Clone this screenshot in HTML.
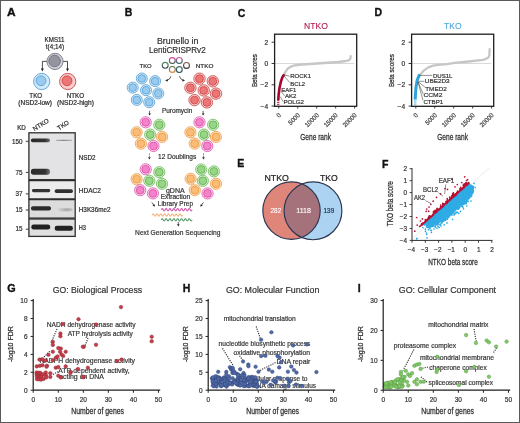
<!DOCTYPE html>
<html><head><meta charset="utf-8"><title>Figure</title>
<style>
html,body{margin:0;padding:0;background:#fff;}
body{width:520px;height:423px;overflow:hidden;font-family:"Liberation Sans", sans-serif;}
.fig{position:relative;width:518px;height:421px;border:1px solid #595959;background:#fff;}
.fig svg{position:absolute;left:-1px;top:-1px;filter:blur(0.3px);}
</style></head><body><div class="fig">
<svg width="520" height="423" viewBox="0 0 520 423" font-family='"Liberation Sans", sans-serif'>
<text x="6.9" y="16.4" font-size="10.5" fill="#111" font-weight="bold" textLength="8.6" lengthAdjust="spacingAndGlyphs" stroke="#111" stroke-width="0.35">A</text>
<text x="124.8" y="16.4" font-size="10.5" fill="#111" font-weight="bold" stroke="#111" stroke-width="0.35">B</text>
<text x="237.8" y="16.5" font-size="10.5" fill="#111" font-weight="bold" stroke="#111" stroke-width="0.35">C</text>
<text x="374.5" y="16.3" font-size="10.5" fill="#111" font-weight="bold" stroke="#111" stroke-width="0.35">D</text>
<text x="237.3" y="167.4" font-size="10.5" fill="#111" font-weight="bold" stroke="#111" stroke-width="0.35">E</text>
<text x="382.1" y="167.5" font-size="10.5" fill="#111" font-weight="bold" stroke="#111" stroke-width="0.35">F</text>
<text x="7.2" y="291.6" font-size="10.5" fill="#111" font-weight="bold" textLength="8.4" lengthAdjust="spacingAndGlyphs" stroke="#111" stroke-width="0.35">G</text>
<text x="182.7" y="291.6" font-size="10.5" fill="#111" font-weight="bold" stroke="#111" stroke-width="0.35">H</text>
<text x="357.8" y="291.6" font-size="10.5" fill="#111" font-weight="bold" stroke="#111" stroke-width="0.35">I</text>
<text x="54.55" y="42.1" font-size="6.3" fill="#2b2b2b" text-anchor="middle" textLength="19.9" lengthAdjust="spacingAndGlyphs" stroke="#2b2b2b" stroke-width="0.2">KMS11</text>
<text x="54.9" y="49.4" font-size="6.3" fill="#2b2b2b" text-anchor="middle" textLength="18.2" lengthAdjust="spacingAndGlyphs" stroke="#2b2b2b" stroke-width="0.2">t(4;14)</text>
<circle cx="55" cy="61.4" r="8.1" fill="#d0d0d8" stroke="#80808c" stroke-width="1.0"/>
<circle cx="54.6" cy="61" r="5.74" fill="#94959f" stroke="#6f707c" stroke-width="0.95"/>
<path d="M46.8,61.4 H42.4 V69" fill="none" stroke="#222" stroke-width="0.8"/>
<path d="M40.9,68.6 L43.9,68.6 L42.4,71.6 Z" fill="#222"/>
<path d="M63.2,61.4 H67.5 V69" fill="none" stroke="#222" stroke-width="0.8"/>
<path d="M66,68.6 L69,68.6 L67.5,71.6 Z" fill="#222"/>
<circle cx="41.7" cy="81.5" r="8.1" fill="#d2ebfa" stroke="#64a6d6" stroke-width="1.0"/>
<circle cx="41" cy="80.8" r="4.92" fill="#98cbef" stroke="#5aa2d8" stroke-width="0.95"/>
<circle cx="67.7" cy="81.5" r="8.1" fill="#fbcccc" stroke="#cf5656" stroke-width="1.0"/>
<circle cx="67" cy="80.8" r="4.92" fill="#ec7575" stroke="#cc4a4a" stroke-width="0.95"/>
<text x="35.75" y="97.6" font-size="6.3" fill="#2b2b2b" text-anchor="middle" textLength="12.9" lengthAdjust="spacingAndGlyphs" stroke="#2b2b2b" stroke-width="0.2">TKO</text>
<text x="35.15" y="104.8" font-size="6.3" fill="#2b2b2b" text-anchor="middle" textLength="33.7" lengthAdjust="spacingAndGlyphs" stroke="#2b2b2b" stroke-width="0.2">(NSD2-low)</text>
<text x="75.45" y="97.6" font-size="6.3" fill="#2b2b2b" text-anchor="middle" textLength="17.5" lengthAdjust="spacingAndGlyphs" stroke="#2b2b2b" stroke-width="0.2">NTKO</text>
<text x="75.5" y="104.8" font-size="6.3" fill="#2b2b2b" text-anchor="middle" textLength="36.8" lengthAdjust="spacingAndGlyphs" stroke="#2b2b2b" stroke-width="0.2">(NSD2-high)</text>
<text x="17.2" y="130.2" font-size="6.3" fill="#2b2b2b" textLength="8.6" lengthAdjust="spacingAndGlyphs" stroke="#2b2b2b" stroke-width="0.2">KD</text>
<text x="34.6" y="131.3" font-size="6.3" fill="#2b2b2b" textLength="17.6" lengthAdjust="spacingAndGlyphs" transform="rotate(-33 34.6 131.3)" stroke="#2b2b2b" stroke-width="0.2">NTKO</text>
<text x="59" y="130.4" font-size="6.3" fill="#2b2b2b" textLength="12.6" lengthAdjust="spacingAndGlyphs" transform="rotate(-33 59 130.4)" stroke="#2b2b2b" stroke-width="0.2">TKO</text>
<defs><linearGradient id="bg1" x1="0" x2="1"><stop offset="0" stop-color="#2a2a2a"/><stop offset="0.75" stop-color="#333"/><stop offset="1" stop-color="#777"/></linearGradient><linearGradient id="bg2" x1="0" x2="1"><stop offset="0" stop-color="#b0b0b0"/><stop offset="0.5" stop-color="#8a8a8a"/><stop offset="1" stop-color="#b5b5b5"/></linearGradient><linearGradient id="bg3" x1="0" x2="1"><stop offset="0" stop-color="#d4d4d4"/><stop offset="0.6" stop-color="#a8a8a8"/><stop offset="1" stop-color="#c4c4c4"/></linearGradient></defs>
<rect x="28.9" y="132.8" width="46.3" height="46.9" fill="#e3e3e5" stroke="#2e2e2e" stroke-width="1.3"/>
<rect x="28.9" y="180.6" width="46.3" height="18.3" fill="#ececec" stroke="#2e2e2e" stroke-width="1.3"/>
<rect x="28.9" y="199.6" width="46.3" height="18.5" fill="#dcdcdd" stroke="#2e2e2e" stroke-width="1.3"/>
<rect x="28.9" y="219" width="46.3" height="17.4" fill="#e0e0e1" stroke="#2e2e2e" stroke-width="1.3"/>
<rect x="30.9" y="138.45" width="19.1" height="3.9" rx="1.77" fill="url(#bg1)" opacity="1"/>
<rect x="56.1" y="139.7" width="16" height="1.4" rx="0.64" fill="url(#bg2)" opacity="1"/>
<rect x="30.9" y="168.8" width="19.1" height="6" rx="2.73" fill="url(#bg1)" opacity="1"/>
<rect x="32" y="189" width="18.2" height="3.2" rx="1.45" fill="#333" opacity="1"/>
<rect x="54.7" y="189.3" width="18.2" height="3.6" rx="1.64" fill="#2f2f2f" opacity="1"/>
<rect x="31" y="206.15" width="20" height="4.3" rx="1.95" fill="#2c2c2c" opacity="1"/>
<rect x="58" y="208.2" width="14.5" height="3" rx="1.36" fill="url(#bg3)" opacity="1"/>
<rect x="31.3" y="224.5" width="18.9" height="5" rx="2.27" fill="#222" opacity="1"/>
<rect x="54.7" y="225.8" width="18.2" height="5" rx="2.27" fill="#222" opacity="1"/>
<text x="22.6" y="143.5" font-size="6.3" fill="#2b2b2b" text-anchor="end" stroke="#2b2b2b" stroke-width="0.2">150</text>
<line x1="25.8" y1="141.3" x2="28.5" y2="141.3" stroke="#222" stroke-width="0.9"/>
<text x="22.6" y="174.6" font-size="6.3" fill="#2b2b2b" text-anchor="end" stroke="#2b2b2b" stroke-width="0.2">75</text>
<line x1="25.8" y1="172.4" x2="28.5" y2="172.4" stroke="#222" stroke-width="0.9"/>
<text x="22.6" y="195.6" font-size="6.3" fill="#2b2b2b" text-anchor="end" stroke="#2b2b2b" stroke-width="0.2">37</text>
<line x1="25.8" y1="193.9" x2="28.5" y2="193.9" stroke="#222" stroke-width="0.9"/>
<text x="22.6" y="212" font-size="6.3" fill="#2b2b2b" text-anchor="end" stroke="#2b2b2b" stroke-width="0.2">15</text>
<line x1="25.8" y1="210" x2="28.5" y2="210" stroke="#222" stroke-width="0.9"/>
<text x="22.6" y="231.3" font-size="6.3" fill="#2b2b2b" text-anchor="end" stroke="#2b2b2b" stroke-width="0.2">15</text>
<line x1="25.8" y1="229.2" x2="28.5" y2="229.2" stroke="#222" stroke-width="0.9"/>
<text x="78.8" y="159.8" font-size="6.3" fill="#2b2b2b" textLength="16.8" lengthAdjust="spacingAndGlyphs" stroke="#2b2b2b" stroke-width="0.2">NSD2</text>
<text x="78.8" y="193.3" font-size="6.3" fill="#2b2b2b" textLength="22.2" lengthAdjust="spacingAndGlyphs" stroke="#2b2b2b" stroke-width="0.2">HDAC2</text>
<text x="78.8" y="212.2" font-size="6.3" fill="#2b2b2b" textLength="31.7" lengthAdjust="spacingAndGlyphs" stroke="#2b2b2b" stroke-width="0.2">H3K36me2</text>
<text x="78.8" y="230.2" font-size="6.3" fill="#2b2b2b" textLength="7.2" lengthAdjust="spacingAndGlyphs" stroke="#2b2b2b" stroke-width="0.2">H3</text>
<text x="177.7" y="43.5" font-size="8.4" fill="#333" text-anchor="middle" textLength="41.4" lengthAdjust="spacingAndGlyphs" stroke="#333" stroke-width="0.2">Brunello in</text>
<text x="177.3" y="53.3" font-size="8.4" fill="#333" text-anchor="middle" textLength="56.8" lengthAdjust="spacingAndGlyphs" stroke="#333" stroke-width="0.2">LentiCRISPRv2</text>
<text x="139.6" y="67.8" font-size="5.9" fill="#2b2b2b" textLength="12.1" lengthAdjust="spacingAndGlyphs" stroke="#2b2b2b" stroke-width="0.2">TKO</text>
<text x="195.8" y="67.8" font-size="5.9" fill="#2b2b2b" textLength="17.6" lengthAdjust="spacingAndGlyphs" stroke="#2b2b2b" stroke-width="0.2">NTKO</text>
<defs><linearGradient id="rg0" x1="0" y1="0" x2="0" y2="1"><stop offset="0" stop-color="#d2449c"/><stop offset="1" stop-color="#3f5f4c"/></linearGradient><linearGradient id="rg1" x1="0" y1="0" x2="0" y2="1"><stop offset="0" stop-color="#c8509a"/><stop offset="1" stop-color="#2f6a66"/></linearGradient><linearGradient id="rg2" x1="0" y1="0" x2="0" y2="1"><stop offset="0" stop-color="#4f8a64"/><stop offset="1" stop-color="#35474c"/></linearGradient><linearGradient id="rg3" x1="0" y1="0" x2="0" y2="1"><stop offset="0" stop-color="#7a5a48"/><stop offset="1" stop-color="#3a3a3a"/></linearGradient><linearGradient id="rg4" x1="0" y1="0" x2="0" y2="1"><stop offset="0" stop-color="#5c6a4c"/><stop offset="1" stop-color="#d98a40"/></linearGradient><linearGradient id="rg5" x1="0" y1="0" x2="0" y2="1"><stop offset="0" stop-color="#3f6f60"/><stop offset="1" stop-color="#2b4f5c"/></linearGradient></defs>
<circle cx="172.3" cy="60.6" r="2.95" fill="none" stroke="url(#rg0)" stroke-width="1.1"/>
<circle cx="179.3" cy="60.5" r="2.95" fill="none" stroke="url(#rg1)" stroke-width="1.1"/>
<circle cx="165.2" cy="65.3" r="2.95" fill="none" stroke="url(#rg2)" stroke-width="1.1"/>
<circle cx="186.5" cy="65.4" r="2.95" fill="none" stroke="url(#rg3)" stroke-width="1.1"/>
<circle cx="172.3" cy="69.4" r="2.95" fill="none" stroke="url(#rg4)" stroke-width="1.1"/>
<circle cx="179.3" cy="69.6" r="2.95" fill="none" stroke="url(#rg5)" stroke-width="1.1"/>
<path d="M170.8,76.4 Q170.2,79.4 167,80.3" fill="none" stroke="#222" stroke-width="0.75"/>
<path d="M165.2,80.8 L167.4,78.9 L168,81.5 Z" fill="#222"/>
<path d="M179.4,76.2 Q180.2,79.3 183.2,80.3" fill="none" stroke="#222" stroke-width="0.75"/>
<path d="M185,80.8 L182.8,78.9 L182.2,81.5 Z" fill="#222"/>
<circle cx="141.8" cy="78.5" r="5.5" fill="#d2ebfa" stroke="#64a6d6" stroke-width="0.9"/>
<circle cx="141.8" cy="78.5" r="3.81" fill="#98cbef" stroke="#5aa2d8" stroke-width="0.855"/>
<circle cx="155.1" cy="81.1" r="5.5" fill="#d2ebfa" stroke="#64a6d6" stroke-width="0.9"/>
<circle cx="155.1" cy="81.1" r="3.81" fill="#98cbef" stroke="#5aa2d8" stroke-width="0.855"/>
<circle cx="132.7" cy="87.6" r="5.5" fill="#d2ebfa" stroke="#64a6d6" stroke-width="0.9"/>
<circle cx="132.7" cy="87.6" r="3.81" fill="#98cbef" stroke="#5aa2d8" stroke-width="0.855"/>
<circle cx="146" cy="90.2" r="5.5" fill="#d2ebfa" stroke="#64a6d6" stroke-width="0.9"/>
<circle cx="146" cy="90.2" r="3.81" fill="#98cbef" stroke="#5aa2d8" stroke-width="0.855"/>
<circle cx="158.3" cy="93.4" r="5.5" fill="#d2ebfa" stroke="#64a6d6" stroke-width="0.9"/>
<circle cx="158.3" cy="93.4" r="3.81" fill="#98cbef" stroke="#5aa2d8" stroke-width="0.855"/>
<circle cx="136.8" cy="99.9" r="5.5" fill="#d2ebfa" stroke="#64a6d6" stroke-width="0.9"/>
<circle cx="136.8" cy="99.9" r="3.81" fill="#98cbef" stroke="#5aa2d8" stroke-width="0.855"/>
<circle cx="149.2" cy="102.2" r="5.5" fill="#d2ebfa" stroke="#64a6d6" stroke-width="0.9"/>
<circle cx="149.2" cy="102.2" r="3.81" fill="#98cbef" stroke="#5aa2d8" stroke-width="0.855"/>
<circle cx="199.5" cy="78.7" r="5.7" fill="#fbcccc" stroke="#cf5656" stroke-width="0.9"/>
<circle cx="199.5" cy="78.7" r="3.94" fill="#ec7575" stroke="#cc4a4a" stroke-width="0.855"/>
<circle cx="212.8" cy="81.3" r="5.7" fill="#fbcccc" stroke="#cf5656" stroke-width="0.9"/>
<circle cx="212.8" cy="81.3" r="3.94" fill="#ec7575" stroke="#cc4a4a" stroke-width="0.855"/>
<circle cx="190.4" cy="87.8" r="5.7" fill="#fbcccc" stroke="#cf5656" stroke-width="0.9"/>
<circle cx="190.4" cy="87.8" r="3.94" fill="#ec7575" stroke="#cc4a4a" stroke-width="0.855"/>
<circle cx="203.7" cy="90.4" r="5.7" fill="#fbcccc" stroke="#cf5656" stroke-width="0.9"/>
<circle cx="203.7" cy="90.4" r="3.94" fill="#ec7575" stroke="#cc4a4a" stroke-width="0.855"/>
<circle cx="216" cy="93.6" r="5.7" fill="#fbcccc" stroke="#cf5656" stroke-width="0.9"/>
<circle cx="216" cy="93.6" r="3.94" fill="#ec7575" stroke="#cc4a4a" stroke-width="0.855"/>
<circle cx="194.5" cy="100.1" r="5.7" fill="#fbcccc" stroke="#cf5656" stroke-width="0.9"/>
<circle cx="194.5" cy="100.1" r="3.94" fill="#ec7575" stroke="#cc4a4a" stroke-width="0.855"/>
<circle cx="206.9" cy="102.4" r="5.7" fill="#fbcccc" stroke="#cf5656" stroke-width="0.9"/>
<circle cx="206.9" cy="102.4" r="3.94" fill="#ec7575" stroke="#cc4a4a" stroke-width="0.855"/>
<circle cx="145.7" cy="122.3" r="5.6" fill="#fcd4ec" stroke="#e064b4" stroke-width="0.9"/>
<circle cx="145.7" cy="122.3" r="3.88" fill="#f283cc" stroke="#d9509f" stroke-width="0.855"/>
<circle cx="159.3" cy="124.8" r="5.6" fill="#dcf2d2" stroke="#76c065" stroke-width="0.9"/>
<circle cx="159.3" cy="124.8" r="3.88" fill="#98d586" stroke="#5fae4d" stroke-width="0.855"/>
<circle cx="136.6" cy="132.3" r="5.6" fill="#fee2c0" stroke="#f0a458" stroke-width="0.9"/>
<circle cx="136.6" cy="132.3" r="3.88" fill="#fbbc76" stroke="#eb9640" stroke-width="0.855"/>
<circle cx="150.2" cy="134.6" r="5.6" fill="#dcf2d2" stroke="#76c065" stroke-width="0.9"/>
<circle cx="150.2" cy="134.6" r="3.88" fill="#98d586" stroke="#5fae4d" stroke-width="0.855"/>
<circle cx="162.1" cy="136.9" r="5.6" fill="#fee2c0" stroke="#f0a458" stroke-width="0.9"/>
<circle cx="162.1" cy="136.9" r="3.88" fill="#fbbc76" stroke="#eb9640" stroke-width="0.855"/>
<circle cx="140.9" cy="143.6" r="5.6" fill="#fee2c0" stroke="#f0a458" stroke-width="0.9"/>
<circle cx="140.9" cy="143.6" r="3.88" fill="#fbbc76" stroke="#eb9640" stroke-width="0.855"/>
<circle cx="153.5" cy="146" r="5.6" fill="#fcd4ec" stroke="#e064b4" stroke-width="0.9"/>
<circle cx="153.5" cy="146" r="3.88" fill="#f283cc" stroke="#d9509f" stroke-width="0.855"/>
<circle cx="199.5" cy="122.3" r="5.6" fill="#fcd4ec" stroke="#e064b4" stroke-width="0.9"/>
<circle cx="199.5" cy="122.3" r="3.88" fill="#f283cc" stroke="#d9509f" stroke-width="0.855"/>
<circle cx="213.1" cy="124.8" r="5.6" fill="#dcf2d2" stroke="#76c065" stroke-width="0.9"/>
<circle cx="213.1" cy="124.8" r="3.88" fill="#98d586" stroke="#5fae4d" stroke-width="0.855"/>
<circle cx="190.4" cy="132.3" r="5.6" fill="#fee2c0" stroke="#f0a458" stroke-width="0.9"/>
<circle cx="190.4" cy="132.3" r="3.88" fill="#fbbc76" stroke="#eb9640" stroke-width="0.855"/>
<circle cx="204" cy="134.6" r="5.6" fill="#dcf2d2" stroke="#76c065" stroke-width="0.9"/>
<circle cx="204" cy="134.6" r="3.88" fill="#98d586" stroke="#5fae4d" stroke-width="0.855"/>
<circle cx="215.9" cy="136.9" r="5.6" fill="#fee2c0" stroke="#f0a458" stroke-width="0.9"/>
<circle cx="215.9" cy="136.9" r="3.88" fill="#fbbc76" stroke="#eb9640" stroke-width="0.855"/>
<circle cx="194.7" cy="143.6" r="5.6" fill="#fee2c0" stroke="#f0a458" stroke-width="0.9"/>
<circle cx="194.7" cy="143.6" r="3.88" fill="#fbbc76" stroke="#eb9640" stroke-width="0.855"/>
<circle cx="207.3" cy="146" r="5.6" fill="#fcd4ec" stroke="#e064b4" stroke-width="0.9"/>
<circle cx="207.3" cy="146" r="3.88" fill="#f283cc" stroke="#d9509f" stroke-width="0.855"/>
<circle cx="145.7" cy="169.3" r="5.6" fill="#fcd4ec" stroke="#e064b4" stroke-width="0.9"/>
<circle cx="145.7" cy="169.3" r="3.88" fill="#f283cc" stroke="#d9509f" stroke-width="0.855"/>
<circle cx="159.3" cy="172.2" r="5.6" fill="#dcf2d2" stroke="#76c065" stroke-width="0.9"/>
<circle cx="159.3" cy="172.2" r="3.88" fill="#98d586" stroke="#5fae4d" stroke-width="0.855"/>
<circle cx="136.6" cy="179.2" r="5.6" fill="#fee2c0" stroke="#f0a458" stroke-width="0.9"/>
<circle cx="136.6" cy="179.2" r="3.88" fill="#fbbc76" stroke="#eb9640" stroke-width="0.855"/>
<circle cx="149.3" cy="180.8" r="5.6" fill="#dcf2d2" stroke="#76c065" stroke-width="0.9"/>
<circle cx="149.3" cy="180.8" r="3.88" fill="#98d586" stroke="#5fae4d" stroke-width="0.855"/>
<circle cx="162" cy="183.8" r="5.6" fill="#dcf2d2" stroke="#76c065" stroke-width="0.9"/>
<circle cx="162" cy="183.8" r="3.88" fill="#98d586" stroke="#5fae4d" stroke-width="0.855"/>
<circle cx="140.2" cy="190.2" r="5.6" fill="#fcd4ec" stroke="#e064b4" stroke-width="0.9"/>
<circle cx="140.2" cy="190.2" r="3.88" fill="#f283cc" stroke="#d9509f" stroke-width="0.855"/>
<circle cx="152.9" cy="193.4" r="5.6" fill="#fcd4ec" stroke="#e064b4" stroke-width="0.9"/>
<circle cx="152.9" cy="193.4" r="3.88" fill="#f283cc" stroke="#d9509f" stroke-width="0.855"/>
<circle cx="201.2" cy="169.5" r="5.6" fill="#dcf2d2" stroke="#76c065" stroke-width="0.9"/>
<circle cx="201.2" cy="169.5" r="3.88" fill="#98d586" stroke="#5fae4d" stroke-width="0.855"/>
<circle cx="213.9" cy="171.4" r="5.6" fill="#dcf2d2" stroke="#76c065" stroke-width="0.9"/>
<circle cx="213.9" cy="171.4" r="3.88" fill="#98d586" stroke="#5fae4d" stroke-width="0.855"/>
<circle cx="190.6" cy="178.8" r="5.6" fill="#fee2c0" stroke="#f0a458" stroke-width="0.9"/>
<circle cx="190.6" cy="178.8" r="3.88" fill="#fbbc76" stroke="#eb9640" stroke-width="0.855"/>
<circle cx="202.8" cy="180.8" r="5.6" fill="#dcf2d2" stroke="#76c065" stroke-width="0.9"/>
<circle cx="202.8" cy="180.8" r="3.88" fill="#98d586" stroke="#5fae4d" stroke-width="0.855"/>
<circle cx="216" cy="183.8" r="5.6" fill="#fee2c0" stroke="#f0a458" stroke-width="0.9"/>
<circle cx="216" cy="183.8" r="3.88" fill="#fbbc76" stroke="#eb9640" stroke-width="0.855"/>
<circle cx="194.8" cy="190.2" r="5.6" fill="#fee2c0" stroke="#f0a458" stroke-width="0.9"/>
<circle cx="194.8" cy="190.2" r="3.88" fill="#fbbc76" stroke="#eb9640" stroke-width="0.855"/>
<circle cx="207.5" cy="193.4" r="5.6" fill="#fcd4ec" stroke="#e064b4" stroke-width="0.9"/>
<circle cx="207.5" cy="193.4" r="3.88" fill="#f283cc" stroke="#d9509f" stroke-width="0.855"/>
<text x="177.1" y="113.4" font-size="6.4" fill="#333" text-anchor="middle" textLength="30.4" lengthAdjust="spacingAndGlyphs" stroke="#333" stroke-width="0.2">Puromycin</text>
<line x1="149.6" y1="110.8" x2="149.6" y2="114" stroke="#222" stroke-width="0.7"/>
<path d="M148.3,113.4 L150.9,113.4 L149.6,115.5 Z" fill="#222"/>
<line x1="203.1" y1="110.8" x2="203.1" y2="114" stroke="#222" stroke-width="0.7"/>
<path d="M201.8,113.4 L204.4,113.4 L203.1,115.5 Z" fill="#222"/>
<text x="177.2" y="158.6" font-size="6.9" fill="#333" text-anchor="middle" textLength="38.2" lengthAdjust="spacingAndGlyphs" stroke="#333" stroke-width="0.2">12 Doublings</text>
<line x1="149.4" y1="153.6" x2="149.4" y2="157.9" stroke="#222" stroke-width="0.9" stroke-dasharray="0.9,1.2"/>
<path d="M148.1,157.3 L150.7,157.3 L149.4,159.4 Z" fill="#222"/>
<line x1="203.5" y1="153.6" x2="203.5" y2="157.9" stroke="#222" stroke-width="0.9" stroke-dasharray="0.9,1.2"/>
<path d="M202.2,157.3 L204.8,157.3 L203.5,159.4 Z" fill="#222"/>
<text x="175.3" y="193.2" font-size="6.5" fill="#333" text-anchor="middle" textLength="18.8" lengthAdjust="spacingAndGlyphs" stroke="#333" stroke-width="0.2">gDNA</text>
<text x="175.4" y="199" font-size="6.5" fill="#333" text-anchor="middle" textLength="29.4" lengthAdjust="spacingAndGlyphs" stroke="#333" stroke-width="0.2">Extraction</text>
<text x="175.4" y="205.9" font-size="6.5" fill="#333" text-anchor="middle" textLength="35.2" lengthAdjust="spacingAndGlyphs" stroke="#333" stroke-width="0.2">Library Prep</text>
<path d="M151.9,202.4 L153.9,205.3" fill="none" stroke="#222" stroke-width="0.75"/>
<path d="M154.9,206.7 L152.5,205.6 L154.7,204.2 Z" fill="#222"/>
<path d="M203.4,202.4 L201.4,205.3" fill="none" stroke="#222" stroke-width="0.75"/>
<path d="M200.4,206.7 L202.8,205.6 L200.6,204.2 Z" fill="#222"/>
<path d="M161.3,209.8 Q162.26,207.5 163.23,209.8 T165.15,209.8 Q166.11,207.5 167.08,209.8 T169,209.8 Q169.96,207.5 170.93,209.8 T172.85,209.8 Q173.81,207.5 174.78,209.8 T176.7,209.8 Q177.66,207.5 178.63,209.8 T180.55,209.8 Q181.51,207.5 182.48,209.8 T184.4,209.8 Q185.36,207.5 186.33,209.8 T188.25,209.8 Q189.21,207.5 190.18,209.8 T192.1,209.8" fill="none" stroke="#d45aae" stroke-width="1.1"/>
<path d="M152.1,215.1 Q153.06,212.8 154.03,215.1 T155.95,215.1 Q156.91,212.8 157.88,215.1 T159.8,215.1 Q160.76,212.8 161.72,215.1 T163.65,215.1 Q164.61,212.8 165.58,215.1 T167.5,215.1 Q168.46,212.8 169.43,215.1 T171.35,215.1 Q172.31,212.8 173.28,215.1 T175.2,215.1 Q176.16,212.8 177.12,215.1 T179.05,215.1 Q180.01,212.8 180.97,215.1 T182.9,215.1" fill="none" stroke="#f2ad6c" stroke-width="1.1"/>
<path d="M161.3,219.9 Q162.26,217.6 163.23,219.9 T165.15,219.9 Q166.11,217.6 167.08,219.9 T169,219.9 Q169.96,217.6 170.93,219.9 T172.85,219.9 Q173.81,217.6 174.78,219.9 T176.7,219.9 Q177.66,217.6 178.63,219.9 T180.55,219.9 Q181.51,217.6 182.48,219.9 T184.4,219.9 Q185.36,217.6 186.33,219.9 T188.25,219.9 Q189.21,217.6 190.18,219.9 T192.1,219.9" fill="none" stroke="#4a9660" stroke-width="1.1"/>
<line x1="178.3" y1="221.8" x2="178.3" y2="224.9" stroke="#222" stroke-width="0.7"/>
<path d="M177,224.3 L179.6,224.3 L178.3,226.4 Z" fill="#222"/>
<text x="177.8" y="234.9" font-size="6.9" fill="#333" text-anchor="middle" textLength="85.4" lengthAdjust="spacingAndGlyphs" stroke="#333" stroke-width="0.2">Next Generation Sequencing</text>
<text x="316" y="29.4" font-size="8.8" fill="#b01c4c" text-anchor="middle" textLength="23.8" lengthAdjust="spacingAndGlyphs" stroke="#b01c4c" stroke-width="0.1">NTKO</text>
<line x1="274.6" y1="63.5" x2="354.2" y2="63.5" stroke="#d9d9d9" stroke-width="1.0"/>
<path d="M284,74.6 L285.6,71.6 L287.7,68.8 L290.5,66.8 L293.4,65.7 L297.5,65 L301.9,64.5 L310,64 L324.2,63 L338.4,62 L346,61 L348.6,60.3 L350.3,58.8 L350.7,56.2" fill="none" stroke="#c6c6c6" stroke-width="2.3" stroke-linejoin="round" stroke-linecap="round"/>
<path d="M278.3,100 L278.6,95 L279.5,88 L280.9,81.5 L282.5,77 L284.2,74.4" fill="none" stroke="#a8062e" stroke-width="2.6" stroke-linejoin="round"/>
<path d="M278.3,100 L278.2,105.3" fill="none" stroke="#c8324f" stroke-width="2.21" stroke-dasharray="1.3,0.7"/>
<rect x="274.6" y="34.2" width="82.1" height="72.1" fill="none" stroke="#1e1e1e" stroke-width="1.3"/>
<line x1="271.6" y1="42.2" x2="274.6" y2="42.2" stroke="#222" stroke-width="0.9"/>
<text x="268.1" y="44.6" font-size="6.6" fill="#333" text-anchor="end" stroke="#333" stroke-width="0.2">2</text>
<line x1="271.6" y1="63.5" x2="274.6" y2="63.5" stroke="#222" stroke-width="0.9"/>
<text x="268.1" y="65.9" font-size="6.6" fill="#333" text-anchor="end" stroke="#333" stroke-width="0.2">0</text>
<line x1="271.6" y1="84.8" x2="274.6" y2="84.8" stroke="#222" stroke-width="0.9"/>
<text x="268.1" y="87.2" font-size="6.6" fill="#333" text-anchor="end" stroke="#333" stroke-width="0.2">−2</text>
<line x1="271.6" y1="106.1" x2="274.6" y2="106.1" stroke="#222" stroke-width="0.9"/>
<text x="268.1" y="108.5" font-size="6.6" fill="#333" text-anchor="end" stroke="#333" stroke-width="0.2">−4</text>
<line x1="278.8" y1="106.3" x2="278.8" y2="108.5" stroke="#222" stroke-width="0.9"/>
<text x="281.4" y="115.7" font-size="6.4" fill="#333" text-anchor="end" textLength="3.35" lengthAdjust="spacingAndGlyphs" transform="rotate(-45 281.4 115.7)" stroke="#333" stroke-width="0.2">0</text>
<line x1="297.75" y1="106.3" x2="297.75" y2="108.5" stroke="#222" stroke-width="0.9"/>
<text x="300.35" y="115.7" font-size="6.4" fill="#333" text-anchor="end" textLength="13.4" lengthAdjust="spacingAndGlyphs" transform="rotate(-45 300.35 115.7)" stroke="#333" stroke-width="0.2">5000</text>
<line x1="316.7" y1="106.3" x2="316.7" y2="108.5" stroke="#222" stroke-width="0.9"/>
<text x="319.3" y="115.7" font-size="6.4" fill="#333" text-anchor="end" textLength="16.75" lengthAdjust="spacingAndGlyphs" transform="rotate(-45 319.3 115.7)" stroke="#333" stroke-width="0.2">10000</text>
<line x1="335.65" y1="106.3" x2="335.65" y2="108.5" stroke="#222" stroke-width="0.9"/>
<text x="338.25" y="115.7" font-size="6.4" fill="#333" text-anchor="end" textLength="16.75" lengthAdjust="spacingAndGlyphs" transform="rotate(-45 338.25 115.7)" stroke="#333" stroke-width="0.2">15000</text>
<line x1="354.6" y1="106.3" x2="354.6" y2="108.5" stroke="#222" stroke-width="0.9"/>
<text x="357.2" y="115.7" font-size="6.4" fill="#333" text-anchor="end" textLength="16.75" lengthAdjust="spacingAndGlyphs" transform="rotate(-45 357.2 115.7)" stroke="#333" stroke-width="0.2">20000</text>
<text x="256.6" y="70.6" font-size="8.0" fill="#333" text-anchor="middle" textLength="33" lengthAdjust="spacingAndGlyphs" transform="rotate(-90 256.6 70.6)" stroke="#333" stroke-width="0.28">Beta scores</text>
<text x="315.6" y="140" font-size="8.6" fill="#333" text-anchor="middle" textLength="30.8" lengthAdjust="spacingAndGlyphs" stroke="#333" stroke-width="0.28">Gene rank</text>
<text x="290.2" y="78.4" font-size="6.0" fill="#333" textLength="20.8" lengthAdjust="spacingAndGlyphs" stroke="#333" stroke-width="0.2">ROCK1</text>
<line x1="284" y1="74.8" x2="289.6" y2="76.2" stroke="#3a3a3a" stroke-width="0.55"/>
<text x="290.2" y="86.1" font-size="6.0" fill="#333" textLength="14.8" lengthAdjust="spacingAndGlyphs" stroke="#333" stroke-width="0.2">BCL2</text>
<line x1="283.6" y1="75.4" x2="289.8" y2="82.6" stroke="#3a3a3a" stroke-width="0.55"/>
<text x="281.3" y="91.6" font-size="6.0" fill="#333" textLength="14.9" lengthAdjust="spacingAndGlyphs" stroke="#333" stroke-width="0.2">EAF1</text>
<text x="284.9" y="97.8" font-size="6.0" fill="#333" textLength="11.6" lengthAdjust="spacingAndGlyphs" stroke="#333" stroke-width="0.2">AK2</text>
<line x1="281.2" y1="91.5" x2="284.6" y2="95.8" stroke="#3a3a3a" stroke-width="0.55"/>
<text x="283.4" y="103.6" font-size="6.0" fill="#333" textLength="20.6" lengthAdjust="spacingAndGlyphs" stroke="#333" stroke-width="0.2">POLG2</text>
<line x1="280.2" y1="96.5" x2="283.2" y2="101.6" stroke="#3a3a3a" stroke-width="0.55"/>
<text x="452.85" y="29.4" font-size="8.8" fill="#4aa6d6" text-anchor="middle" textLength="17.5" lengthAdjust="spacingAndGlyphs" stroke="#4aa6d6" stroke-width="0.1">TKO</text>
<line x1="411.6" y1="63.5" x2="491.2" y2="63.5" stroke="#d9d9d9" stroke-width="1.0"/>
<path d="M420.2,74.8 L423.7,70.6 L428.3,67.4 L433,65.7 L438.3,64.8 L447,64.2 L454.6,62.9 L468.8,61.5 L483,59.8 L485.8,58.9 L488.3,57.4 L489.3,55.5 L489.5,52.5 L489.6,49.2" fill="none" stroke="#c6c6c6" stroke-width="2.3" stroke-linejoin="round" stroke-linecap="round"/>
<path d="M415.2,99.5 L415.4,95.5 L416,87.2 L417.2,80.1 L419.2,75.4 L420,74.6" fill="none" stroke="#2ea2dc" stroke-width="3.0" stroke-linejoin="round"/>
<path d="M415.2,99.5 L415.2,105.5" fill="none" stroke="#7cc6ec" stroke-width="2.55" stroke-dasharray="1.3,0.7"/>
<rect x="411.6" y="34.2" width="82.1" height="72.1" fill="none" stroke="#1e1e1e" stroke-width="1.3"/>
<line x1="408.6" y1="42.2" x2="411.6" y2="42.2" stroke="#222" stroke-width="0.9"/>
<text x="405.1" y="44.6" font-size="6.6" fill="#333" text-anchor="end" stroke="#333" stroke-width="0.2">2</text>
<line x1="408.6" y1="63.5" x2="411.6" y2="63.5" stroke="#222" stroke-width="0.9"/>
<text x="405.1" y="65.9" font-size="6.6" fill="#333" text-anchor="end" stroke="#333" stroke-width="0.2">0</text>
<line x1="408.6" y1="84.8" x2="411.6" y2="84.8" stroke="#222" stroke-width="0.9"/>
<text x="405.1" y="87.2" font-size="6.6" fill="#333" text-anchor="end" stroke="#333" stroke-width="0.2">−2</text>
<line x1="408.6" y1="106.1" x2="411.6" y2="106.1" stroke="#222" stroke-width="0.9"/>
<text x="405.1" y="108.5" font-size="6.6" fill="#333" text-anchor="end" stroke="#333" stroke-width="0.2">−4</text>
<line x1="415.8" y1="106.3" x2="415.8" y2="108.5" stroke="#222" stroke-width="0.9"/>
<text x="418.4" y="115.7" font-size="6.4" fill="#333" text-anchor="end" textLength="3.35" lengthAdjust="spacingAndGlyphs" transform="rotate(-45 418.4 115.7)" stroke="#333" stroke-width="0.2">0</text>
<line x1="434.75" y1="106.3" x2="434.75" y2="108.5" stroke="#222" stroke-width="0.9"/>
<text x="437.35" y="115.7" font-size="6.4" fill="#333" text-anchor="end" textLength="13.4" lengthAdjust="spacingAndGlyphs" transform="rotate(-45 437.35 115.7)" stroke="#333" stroke-width="0.2">5000</text>
<line x1="453.7" y1="106.3" x2="453.7" y2="108.5" stroke="#222" stroke-width="0.9"/>
<text x="456.3" y="115.7" font-size="6.4" fill="#333" text-anchor="end" textLength="16.75" lengthAdjust="spacingAndGlyphs" transform="rotate(-45 456.3 115.7)" stroke="#333" stroke-width="0.2">10000</text>
<line x1="472.65" y1="106.3" x2="472.65" y2="108.5" stroke="#222" stroke-width="0.9"/>
<text x="475.25" y="115.7" font-size="6.4" fill="#333" text-anchor="end" textLength="16.75" lengthAdjust="spacingAndGlyphs" transform="rotate(-45 475.25 115.7)" stroke="#333" stroke-width="0.2">15000</text>
<line x1="491.6" y1="106.3" x2="491.6" y2="108.5" stroke="#222" stroke-width="0.9"/>
<text x="494.2" y="115.7" font-size="6.4" fill="#333" text-anchor="end" textLength="16.75" lengthAdjust="spacingAndGlyphs" transform="rotate(-45 494.2 115.7)" stroke="#333" stroke-width="0.2">20000</text>
<text x="393.6" y="70.6" font-size="8.0" fill="#333" text-anchor="middle" textLength="33" lengthAdjust="spacingAndGlyphs" transform="rotate(-90 393.6 70.6)" stroke="#333" stroke-width="0.28">Beta scores</text>
<text x="452.6" y="140" font-size="8.6" fill="#333" text-anchor="middle" textLength="30.8" lengthAdjust="spacingAndGlyphs" stroke="#333" stroke-width="0.28">Gene rank</text>
<text x="432.9" y="77.7" font-size="6.0" fill="#333" textLength="19.6" lengthAdjust="spacingAndGlyphs" stroke="#333" stroke-width="0.2">DUS1L</text>
<line x1="419.6" y1="75.4" x2="432.2" y2="75.4" stroke="#3a3a3a" stroke-width="0.55"/>
<text x="424.8" y="83.4" font-size="6.0" fill="#333" textLength="24.8" lengthAdjust="spacingAndGlyphs" stroke="#333" stroke-width="0.2">UBE2D3</text>
<line x1="418.4" y1="81.3" x2="424.4" y2="81.3" stroke="#3a3a3a" stroke-width="0.55"/>
<text x="425.2" y="90.5" font-size="6.0" fill="#333" textLength="21.6" lengthAdjust="spacingAndGlyphs" stroke="#333" stroke-width="0.2">TMED2</text>
<line x1="418.2" y1="81.8" x2="425.3" y2="87.4" stroke="#3a3a3a" stroke-width="0.55"/>
<text x="423.4" y="96.8" font-size="6.0" fill="#333" textLength="19.1" lengthAdjust="spacingAndGlyphs" stroke="#333" stroke-width="0.2">CCM2</text>
<line x1="418" y1="82" x2="423.2" y2="94" stroke="#3a3a3a" stroke-width="0.55"/>
<text x="423.4" y="104" font-size="6.0" fill="#333" textLength="19.9" lengthAdjust="spacingAndGlyphs" stroke="#333" stroke-width="0.2">CTBP1</text>
<line x1="418" y1="82" x2="423" y2="100.4" stroke="#3a3a3a" stroke-width="0.55"/>
<defs><clipPath id="cr"><circle cx="291.5" cy="210.6" r="28.7"/></clipPath></defs>
<circle cx="291.5" cy="210.6" r="28.7" fill="#e0857a"/>
<circle cx="313" cy="210.8" r="28.9" fill="#acd3f1"/>
<circle cx="313" cy="210.8" r="28.9" fill="#a5727c" clip-path="url(#cr)"/>
<circle cx="291.5" cy="210.6" r="28.7" fill="none" stroke="#2c3550" stroke-width="1.15"/>
<circle cx="313" cy="210.8" r="28.9" fill="none" stroke="#2c3550" stroke-width="1.15"/>
<text x="276.7" y="180.7" font-size="8.4" fill="#222" text-anchor="middle" textLength="24.4" lengthAdjust="spacingAndGlyphs" stroke="#222" stroke-width="0.2">NTKO</text>
<text x="328.9" y="180.7" font-size="8.4" fill="#222" text-anchor="middle" textLength="17.8" lengthAdjust="spacingAndGlyphs" stroke="#222" stroke-width="0.2">TKO</text>
<text x="275.85" y="212.9" font-size="6.4" fill="#fff" text-anchor="middle" textLength="10.7" lengthAdjust="spacingAndGlyphs" stroke="#fff" stroke-width="0.1">282</text>
<text x="303.6" y="212.9" font-size="6.4" fill="#fff" text-anchor="middle" textLength="14.6" lengthAdjust="spacingAndGlyphs" stroke="#fff" stroke-width="0.1">1118</text>
<text x="328.9" y="212.9" font-size="6.4" fill="#253a5a" text-anchor="middle" textLength="10.6" lengthAdjust="spacingAndGlyphs" stroke="#253a5a" stroke-width="0.2">139</text>
<line x1="412.6" y1="238.7" x2="489.2" y2="167.8" stroke="#e6e6e6" stroke-width="0.8"/>
<path d="M423.4 224.5h0M423.8 223.9h0M424.7 223.0h0M424.7 224.0h0M424.4 225.0h0M425.8 221.9h0M426.1 223.3h0M426.0 224.1h0M426.4 225.6h0M426.9 220.8h0M427.0 222.3h0M426.9 223.3h0M427.2 224.3h0M427.1 225.2h0M426.7 227.0h0M426.9 226.7h0M428.2 219.9h0M428.3 221.2h0M428.1 222.3h0M428.2 223.5h0M428.3 224.3h0M428.4 225.4h0M428.5 226.4h0M427.6 227.3h0M429.4 219.1h0M429.5 220.1h0M429.4 221.3h0M429.3 222.3h0M429.5 223.7h0M429.3 224.6h0M429.1 225.8h0M429.9 228.3h0M429.2 227.7h0M430.2 218.1h0M430.2 219.0h0M430.2 220.4h0M430.2 221.3h0M430.3 222.7h0M430.2 223.6h0M430.4 224.9h0M430.6 226.0h0M430.3 226.8h0M430.9 230.2h0M430.0 227.3h0M431.4 217.1h0M431.5 218.1h0M431.3 219.3h0M431.4 220.4h0M431.7 221.6h0M431.5 222.7h0M431.6 223.5h0M431.7 224.9h0M431.7 226.1h0M431.4 226.6h0M431.0 226.6h0M432.5 216.0h0M432.5 217.0h0M432.4 218.2h0M432.4 219.4h0M432.4 220.7h0M432.7 221.5h0M432.5 222.7h0M432.5 223.6h0M432.8 225.2h0M432.6 226.0h0M432.1 226.5h0M433.0 226.2h0M433.5 215.4h0M433.7 216.1h0M433.7 217.1h0M433.7 218.7h0M433.9 219.6h0M433.6 220.6h0M433.5 221.9h0M433.7 223.0h0M433.6 223.8h0M433.9 225.3h0M435.0 214.3h0M434.7 215.3h0M434.7 216.1h0M434.6 217.4h0M434.7 218.7h0M435.0 219.6h0M435.0 221.0h0M435.0 221.8h0M434.7 222.8h0M434.6 223.9h0M435.3 226.9h0M435.0 226.7h0M435.7 213.3h0M436.1 214.4h0M436.0 215.4h0M435.7 216.6h0M435.8 217.7h0M436.1 218.6h0M435.9 220.0h0M436.0 220.7h0M435.7 221.8h0M436.1 223.2h0M435.7 224.4h0M435.7 225.3h0M436.8 212.0h0M437.2 213.4h0M437.0 214.6h0M437.0 215.7h0M437.2 216.5h0M436.9 217.6h0M436.9 218.9h0M436.9 219.9h0M436.8 221.2h0M436.9 222.1h0M437.0 223.4h0M437.5 224.7h0M437.0 224.0h0M438.1 211.1h0M437.9 212.5h0M437.9 213.4h0M438.2 214.6h0M438.0 215.6h0M438.1 216.9h0M437.9 217.9h0M438.0 218.8h0M438.2 220.0h0M438.1 221.3h0M438.3 222.2h0M438.2 223.3h0M438.3 224.1h0M438.1 226.3h0M439.3 210.4h0M439.4 211.2h0M439.2 212.7h0M439.4 213.4h0M439.0 214.6h0M439.0 215.6h0M439.0 216.9h0M439.3 218.2h0M439.0 219.2h0M439.3 220.0h0M439.4 221.5h0M439.1 222.6h0M439.2 227.5h0M440.1 209.2h0M440.3 210.3h0M440.1 211.4h0M440.4 212.3h0M440.3 213.6h0M440.1 214.7h0M440.4 215.9h0M440.1 217.2h0M440.4 218.3h0M440.1 219.1h0M440.1 220.4h0M440.2 221.2h0M440.8 224.0h0M439.9 224.8h0M441.4 208.4h0M441.2 209.2h0M441.5 210.5h0M441.2 211.8h0M441.5 212.8h0M441.2 214.0h0M441.2 215.1h0M441.4 215.9h0M441.4 217.3h0M441.3 218.0h0M441.4 219.2h0M441.2 220.2h0M441.2 221.3h0M441.2 223.1h0M441.4 221.9h0M442.4 207.1h0M442.4 208.2h0M442.6 209.5h0M442.3 210.6h0M442.7 211.5h0M442.7 212.8h0M442.5 214.1h0M442.4 215.0h0M442.6 216.4h0M442.4 217.4h0M442.6 218.4h0M442.5 219.3h0M442.3 220.3h0M442.8 221.3h0M442.0 222.8h0M443.8 206.4h0M443.5 207.3h0M443.5 208.5h0M443.4 209.6h0M443.5 211.0h0M443.8 211.9h0M443.5 213.2h0M443.5 214.0h0M443.4 215.1h0M443.6 216.2h0M443.5 217.3h0M443.4 218.3h0M443.4 219.5h0M443.0 220.7h0M443.7 221.1h0M444.8 205.4h0M444.8 206.7h0M444.6 207.5h0M444.9 208.5h0M444.8 209.8h0M444.5 211.0h0M444.9 212.0h0M444.8 213.2h0M444.5 214.2h0M444.7 215.4h0M444.9 216.5h0M444.7 217.7h0M444.8 218.7h0M444.6 219.4h0M444.5 219.8h0M445.8 204.4h0M445.9 205.6h0M445.8 206.3h0M445.9 207.8h0M445.8 208.8h0M445.9 209.7h0M445.9 210.9h0M445.6 212.0h0M445.9 213.0h0M445.9 214.5h0M445.8 215.3h0M445.8 216.6h0M445.9 217.6h0M445.9 218.5h0M445.5 220.2h0M445.9 218.9h0M446.7 203.3h0M447.0 204.6h0M447.0 205.5h0M446.9 206.7h0M446.9 207.6h0M447.1 208.8h0M447.1 210.2h0M446.7 211.1h0M447.1 212.4h0M446.9 213.2h0M446.8 214.6h0M446.8 215.5h0M446.7 216.6h0M447.1 217.5h0M447.4 219.2h0M447.9 202.6h0M448.0 203.3h0M447.8 204.6h0M448.0 205.6h0M447.8 206.7h0M447.9 208.1h0M447.8 209.2h0M448.2 209.9h0M448.2 211.3h0M448.2 212.2h0M447.9 213.4h0M448.2 214.6h0M447.9 215.6h0M447.9 216.5h0M448.4 217.5h0M449.0 201.3h0M449.1 202.4h0M449.0 203.9h0M449.3 204.9h0M449.2 206.1h0M449.3 207.0h0M449.2 207.8h0M449.2 209.1h0M449.2 210.3h0M449.0 211.1h0M449.3 212.3h0M449.1 213.5h0M449.0 214.8h0M449.3 215.6h0M448.9 217.1h0M448.7 216.4h0M450.1 200.7h0M450.2 201.4h0M450.4 202.9h0M450.2 203.6h0M450.0 204.7h0M450.1 205.8h0M450.1 206.9h0M450.2 208.4h0M450.3 209.2h0M450.2 210.4h0M450.1 211.4h0M450.0 212.5h0M450.4 213.5h0M450.2 214.8h0M449.9 215.7h0M451.2 199.5h0M451.5 200.8h0M451.5 201.5h0M451.1 202.9h0M451.5 203.9h0M451.3 204.7h0M451.2 206.3h0M451.5 207.4h0M451.5 208.2h0M451.1 209.2h0M451.3 210.6h0M451.5 211.7h0M451.4 212.8h0M451.3 213.8h0M451.6 214.8h0M452.5 198.4h0M452.2 199.5h0M452.5 200.8h0M452.2 201.6h0M452.4 203.0h0M452.3 203.9h0M452.5 204.9h0M452.3 206.2h0M452.6 207.4h0M452.6 208.4h0M452.3 209.4h0M452.6 210.7h0M452.3 211.5h0M452.4 212.9h0M452.1 214.8h0M453.4 197.3h0M453.4 198.6h0M453.6 199.6h0M453.6 201.0h0M453.5 201.8h0M453.7 202.9h0M453.7 204.0h0M453.4 205.4h0M453.4 206.6h0M453.5 207.3h0M453.4 208.5h0M453.6 209.9h0M453.3 210.7h0M453.4 212.1h0M453.0 212.9h0M454.0 215.0h0M454.7 196.8h0M454.8 197.6h0M454.4 199.0h0M454.7 199.6h0M454.7 200.9h0M454.5 202.0h0M454.4 202.9h0M454.5 204.2h0M454.8 205.2h0M454.8 206.3h0M454.5 207.7h0M454.8 208.6h0M454.4 209.7h0M454.5 211.1h0M454.4 214.0h0M454.5 213.4h0M455.8 195.3h0M455.5 196.5h0M455.9 197.7h0M455.8 199.1h0M455.6 199.9h0M455.9 201.1h0M455.6 202.3h0M455.6 203.2h0M455.5 204.5h0M455.9 205.5h0M455.9 206.3h0M455.6 207.7h0M455.9 209.0h0M455.6 209.8h0M455.7 213.4h0M456.1 212.1h0M457.0 194.7h0M456.9 195.6h0M456.7 196.7h0M456.9 197.7h0M456.6 199.1h0M456.7 199.9h0M456.6 201.2h0M456.7 202.5h0M457.0 203.6h0M456.7 204.3h0M456.6 205.6h0M456.9 206.7h0M456.7 207.8h0M456.9 209.0h0M458.0 193.4h0M458.1 194.6h0M457.9 195.8h0M458.0 196.8h0M457.8 197.9h0M457.7 199.3h0M457.9 200.1h0M457.8 201.6h0M457.9 202.3h0M458.1 203.6h0M458.1 204.4h0M457.9 205.9h0M458.1 207.0h0M457.7 207.8h0M457.5 212.4h0M458.4 209.2h0M459.2 192.6h0M458.9 193.9h0M459.2 194.6h0M459.0 196.0h0M458.9 197.0h0M458.8 198.0h0M458.9 199.3h0M459.1 200.2h0M458.8 201.4h0M459.1 202.4h0M458.9 203.5h0M459.1 204.8h0M458.8 205.6h0M458.9 207.0h0M458.5 208.0h0M458.9 208.2h0M460.0 191.9h0M460.0 192.8h0M460.0 193.8h0M460.3 195.2h0M460.0 195.9h0M460.2 197.0h0M459.9 198.5h0M460.1 199.5h0M460.1 200.7h0M460.1 201.4h0M459.9 202.7h0M460.2 204.0h0M459.9 204.9h0M460.0 206.0h0M459.8 207.6h0M461.0 190.7h0M461.4 192.0h0M461.0 192.7h0M461.4 194.2h0M461.2 194.9h0M461.4 196.1h0M461.4 197.3h0M461.4 198.2h0M461.3 199.3h0M461.2 200.8h0M461.4 201.5h0M461.1 202.7h0M461.2 203.8h0M461.0 204.9h0M462.1 189.7h0M462.4 190.6h0M462.5 191.7h0M462.3 193.0h0M462.4 194.0h0M462.3 195.2h0M462.3 196.4h0M462.3 197.4h0M462.1 198.6h0M462.3 199.5h0M462.4 200.8h0M462.3 201.6h0M462.3 202.7h0M462.1 204.0h0M462.1 205.1h0M461.7 206.2h0M462.6 206.7h0M463.4 188.5h0M463.4 189.8h0M463.6 190.7h0M463.6 192.3h0M463.5 193.3h0M463.2 194.5h0M463.4 195.6h0M463.6 196.3h0M463.5 197.7h0M463.2 198.6h0M463.5 199.6h0M463.6 200.7h0M463.6 201.7h0M463.4 203.2h0M463.3 204.0h0M463.2 204.4h0M463.0 207.1h0M464.6 187.9h0M464.3 189.0h0M464.3 190.0h0M464.6 191.0h0M464.7 192.2h0M464.5 193.4h0M464.3 194.6h0M464.6 195.4h0M464.6 196.4h0M464.7 197.7h0M464.4 198.9h0M464.5 199.7h0M464.6 200.7h0M464.7 201.9h0M464.6 203.4h0M464.7 203.8h0M463.9 203.6h0M465.7 186.7h0M465.6 188.1h0M465.4 188.8h0M465.7 189.8h0M465.4 191.1h0M465.4 192.2h0M465.5 193.4h0M465.6 194.3h0M465.7 195.6h0M465.4 196.9h0M465.5 197.6h0M465.4 198.9h0M465.8 200.1h0M465.6 201.0h0M465.4 202.2h0M465.4 203.4h0M466.1 203.7h0M466.6 186.0h0M466.5 186.9h0M466.7 187.9h0M466.5 189.2h0M466.5 190.2h0M466.9 191.1h0M466.5 192.4h0M466.7 193.6h0M466.9 194.4h0M466.6 195.6h0M466.5 197.0h0M466.8 198.0h0M466.5 199.2h0M466.8 200.1h0M466.8 201.2h0M466.2 201.5h0M466.5 202.7h0M467.9 185.0h0M467.9 185.8h0M467.8 187.0h0M467.9 188.1h0M467.7 189.3h0M468.0 190.2h0M468.0 191.2h0M467.7 192.4h0M467.9 193.8h0M467.9 194.6h0M468.0 195.7h0M467.7 197.1h0M467.9 198.1h0M467.9 199.4h0M468.2 201.3h0M468.9 184.1h0M468.9 185.0h0M468.8 186.2h0M468.7 187.5h0M468.7 188.1h0M468.7 189.7h0M468.8 190.4h0M468.7 191.5h0M469.0 192.8h0M469.0 194.0h0M468.7 195.0h0M468.8 196.2h0M469.1 197.4h0M468.7 198.5h0M469.8 184.5h0M469.8 185.5h0M470.2 187.0h0M470.1 188.1h0M470.1 188.9h0M469.8 189.9h0M470.1 191.1h0M469.9 192.3h0M469.8 193.3h0M469.9 194.6h0M469.9 195.6h0M470.2 196.7h0M469.4 198.2h0M471.1 185.4h0M471.0 186.5h0M471.1 187.4h0M471.3 188.4h0M471.3 189.5h0M470.9 190.7h0M471.2 192.1h0M470.9 193.0h0M471.1 194.3h0M470.9 195.2h0M471.5 196.5h0M472.1 185.8h0M472.3 187.1h0M472.0 188.2h0M472.0 189.4h0M472.3 190.5h0M472.3 191.4h0M472.2 192.5h0M472.4 193.5h0M471.8 194.8h0M473.5 186.6h0M473.2 187.9h0M473.2 188.8h0M473.3 190.0h0M473.4 191.1h0M473.1 192.2h0M426.5 233.0h0M426.7 234.5h0M427.1 237.8h0M416.7 238.8h0M422.9 227.5h0M425.4 229.2h0M428.5 229.7h0M431.4 230.6h0M434.0 229.0h0M437.0 228.2h0M441.0 226.1h0M447.0 222.9h0M452.6 219.3h0M458.8 213.3h0M460.5 211.4h0M466.8 206.0h0M471.0 201.0h0M474.1 183.4h0M475.2 187.5h0M417.0 238.3h0M425.5 231.2h0M431.4 232.5h0M444.2 224.8h0M463.5 208.8h0" stroke="#2eaae4" stroke-width="1.70" stroke-linecap="round"/>
<path d="M420.8 225.8h0M421.2 224.9h0M422.1 224.9h0M421.7 223.9h0M422.6 224.0h0M422.6 223.1h0M423.6 223.3h0M424.0 222.6h0M424.4 222.6h0M424.9 221.8h0M425.3 221.9h0M425.3 220.7h0M425.4 219.6h0M426.5 221.0h0M426.5 220.0h0M427.2 220.4h0M427.5 219.2h0M428.2 219.3h0M428.3 218.7h0M428.4 217.6h0M429.2 218.6h0M429.0 217.7h0M428.9 216.6h0M429.3 215.8h0M430.0 217.8h0M430.1 216.8h0M430.1 216.1h0M431.1 217.0h0M430.9 216.3h0M431.6 216.4h0M432.1 215.3h0M432.7 215.6h0M432.7 214.5h0M433.5 214.9h0M433.4 213.7h0M433.5 212.8h0M433.4 211.9h0M434.4 213.5h0M434.5 212.8h0M434.6 211.7h0M434.4 210.7h0M435.4 212.9h0M435.6 212.0h0M435.2 210.8h0M436.4 212.2h0M436.3 211.1h0M436.6 210.1h0M436.4 209.4h0M437.1 211.5h0M437.0 210.6h0M437.1 209.6h0M437.1 208.4h0M437.9 210.3h0M438.2 209.5h0M439.0 209.8h0M439.1 208.9h0M440.1 208.8h0M440.1 208.3h0M441.0 208.3h0M440.5 206.9h0M441.1 206.3h0M440.7 205.0h0M441.9 207.3h0M441.5 206.7h0M442.8 206.7h0M442.8 205.7h0M442.8 204.8h0M442.8 203.4h0M443.6 205.8h0M443.7 204.9h0M443.4 203.7h0M444.1 205.0h0M444.2 204.0h0M445.5 203.9h0M445.5 203.2h0M446.4 203.4h0M446.2 202.7h0M445.9 201.5h0M447.2 202.9h0M447.0 201.9h0M447.1 200.6h0M447.3 199.3h0M447.2 198.7h0M447.9 201.8h0M448.0 201.0h0M448.9 201.1h0M449.1 199.9h0M449.8 200.1h0M449.8 199.5h0M449.9 198.4h0M449.7 197.1h0M450.8 199.6h0M450.4 198.6h0M451.3 198.5h0M451.3 197.4h0M451.9 196.7h0M451.7 195.8h0M452.6 197.9h0M452.6 196.9h0M452.6 195.7h0M452.6 194.8h0M452.7 193.6h0M453.6 197.1h0M453.3 196.2h0M453.6 195.1h0M453.3 193.9h0M453.4 192.9h0M454.6 196.0h0M454.3 194.9h0M455.2 195.7h0M455.2 194.1h0M456.4 194.9h0M456.1 193.6h0M456.8 193.6h0M456.7 192.5h0M458.2 192.8h0M458.1 191.8h0M457.6 191.2h0M458.6 191.9h0M459.0 191.3h0M459.5 191.5h0M459.8 190.4h0M460.0 189.3h0M460.0 188.5h0M460.8 190.4h0M460.5 189.8h0M460.4 188.8h0M460.6 187.4h0M461.5 189.9h0M461.3 189.0h0M462.5 189.0h0M462.3 188.2h0M463.3 188.1h0M463.0 187.5h0M463.4 186.4h0M463.2 185.3h0M463.6 184.4h0M464.2 187.6h0M464.1 186.5h0M464.3 185.7h0M464.8 186.5h0M465.1 185.7h0M465.3 184.8h0M464.8 183.8h0M466.0 185.7h0M466.2 185.0h0M466.1 184.1h0M465.9 182.6h0M466.7 185.2h0M467.2 183.9h0M467.0 183.1h0M467.7 184.4h0M468.0 183.2h0M468.9 183.3h0M468.7 182.6h0M430.9 204.3h0M429.0 207.1h0M426.7 209.0h0M426.2 211.3h0M428.6 211.2h0M416.7 217.5h0M422.4 218.9h0M417.2 225.1h0M414.8 231.2h0M420.5 221.0h0M419.6 226.3h0M464.7 176.8h0M461.8 182.5h0M451.9 179.2h0M466.5 180.5h0M445.0 188.6h0M447.5 189.4h0M440.6 193.8h0M436.5 197.4h0M433.2 201.2h0M457.3 184.5h0M455.0 186.8h0M467.6 179.6h0" stroke="#b80f33" stroke-width="1.70" stroke-linecap="round"/>
<line x1="412" y1="168.1" x2="412" y2="240.4" stroke="#222" stroke-width="0.95"/>
<line x1="412" y1="240.4" x2="492.47" y2="240.4" stroke="#222" stroke-width="0.95"/>
<line x1="409.6" y1="240.4" x2="412" y2="240.4" stroke="#222" stroke-width="0.85"/>
<text x="407.1" y="242.6" font-size="6.4" fill="#333" text-anchor="end" stroke="#333" stroke-width="0.2">−4</text>
<line x1="412" y1="240.4" x2="412" y2="242.8" stroke="#222" stroke-width="0.85"/>
<text x="411.4" y="251.6" font-size="6.4" fill="#333" text-anchor="middle" stroke="#333" stroke-width="0.2">−4</text>
<line x1="409.6" y1="228.45" x2="412" y2="228.45" stroke="#222" stroke-width="0.85"/>
<text x="407.1" y="230.65" font-size="6.4" fill="#333" text-anchor="end" stroke="#333" stroke-width="0.2">−3</text>
<line x1="425.3" y1="240.4" x2="425.3" y2="242.8" stroke="#222" stroke-width="0.85"/>
<text x="424.7" y="251.6" font-size="6.4" fill="#333" text-anchor="middle" stroke="#333" stroke-width="0.2">−3</text>
<line x1="409.6" y1="216.5" x2="412" y2="216.5" stroke="#222" stroke-width="0.85"/>
<text x="407.1" y="218.7" font-size="6.4" fill="#333" text-anchor="end" stroke="#333" stroke-width="0.2">−2</text>
<line x1="438.6" y1="240.4" x2="438.6" y2="242.8" stroke="#222" stroke-width="0.85"/>
<text x="438" y="251.6" font-size="6.4" fill="#333" text-anchor="middle" stroke="#333" stroke-width="0.2">−2</text>
<line x1="409.6" y1="204.55" x2="412" y2="204.55" stroke="#222" stroke-width="0.85"/>
<text x="407.1" y="206.75" font-size="6.4" fill="#333" text-anchor="end" stroke="#333" stroke-width="0.2">−1</text>
<line x1="451.9" y1="240.4" x2="451.9" y2="242.8" stroke="#222" stroke-width="0.85"/>
<text x="451.3" y="251.6" font-size="6.4" fill="#333" text-anchor="middle" stroke="#333" stroke-width="0.2">−1</text>
<line x1="409.6" y1="192.6" x2="412" y2="192.6" stroke="#222" stroke-width="0.85"/>
<text x="407.1" y="194.8" font-size="6.4" fill="#333" text-anchor="end" stroke="#333" stroke-width="0.2">0</text>
<line x1="465.2" y1="240.4" x2="465.2" y2="242.8" stroke="#222" stroke-width="0.85"/>
<text x="465.4" y="251.6" font-size="6.4" fill="#333" text-anchor="middle" stroke="#333" stroke-width="0.2">0</text>
<line x1="409.6" y1="180.65" x2="412" y2="180.65" stroke="#222" stroke-width="0.85"/>
<text x="407.1" y="182.85" font-size="6.4" fill="#333" text-anchor="end" stroke="#333" stroke-width="0.2">1</text>
<line x1="478.5" y1="240.4" x2="478.5" y2="242.8" stroke="#222" stroke-width="0.85"/>
<text x="478.7" y="251.6" font-size="6.4" fill="#333" text-anchor="middle" stroke="#333" stroke-width="0.2">1</text>
<line x1="409.6" y1="168.7" x2="412" y2="168.7" stroke="#222" stroke-width="0.85"/>
<text x="407.1" y="170.9" font-size="6.4" fill="#333" text-anchor="end" stroke="#333" stroke-width="0.2">2</text>
<line x1="491.8" y1="240.4" x2="491.8" y2="242.8" stroke="#222" stroke-width="0.85"/>
<text x="492" y="251.6" font-size="6.4" fill="#333" text-anchor="middle" stroke="#333" stroke-width="0.2">2</text>
<text x="392.6" y="203.7" font-size="8.6" fill="#333" text-anchor="middle" textLength="45.2" lengthAdjust="spacingAndGlyphs" transform="rotate(-90 392.6 203.7)" stroke="#333" stroke-width="0.28">TKO beta score</text>
<text x="453" y="264.6" font-size="8.6" fill="#333" text-anchor="middle" textLength="49.7" lengthAdjust="spacingAndGlyphs" stroke="#333" stroke-width="0.28">NTKO beta score</text>
<text x="438.7" y="183.1" font-size="6.5" fill="#333" textLength="15.5" lengthAdjust="spacingAndGlyphs" stroke="#333" stroke-width="0.2">EAF1</text>
<text x="423.1" y="192.1" font-size="6.5" fill="#333" textLength="15" lengthAdjust="spacingAndGlyphs" stroke="#333" stroke-width="0.2">BCL2</text>
<text x="414" y="200.2" font-size="6.5" fill="#333" textLength="11.1" lengthAdjust="spacingAndGlyphs" stroke="#333" stroke-width="0.2">AK2</text>
<line x1="445.8" y1="184.4" x2="444.6" y2="194" stroke="#333" stroke-width="0.55"/>
<line x1="438.4" y1="192.6" x2="443" y2="196.2" stroke="#333" stroke-width="0.55"/>
<line x1="425.4" y1="200.6" x2="431" y2="203.6" stroke="#333" stroke-width="0.55"/>
<text x="52.7" y="293.1" font-size="8.8" fill="#333" textLength="89.4" lengthAdjust="spacingAndGlyphs" stroke="#333" stroke-width="0.2">GO: Biological Process</text>
<text x="46.7" y="327.3" font-size="6.4" fill="#383838" textLength="88.8" lengthAdjust="spacingAndGlyphs" stroke="#383838" stroke-width="0.2">NADH dehydrogenase activity</text>
<text x="67.7" y="335.9" font-size="6.4" fill="#383838" textLength="65.2" lengthAdjust="spacingAndGlyphs" stroke="#383838" stroke-width="0.2">ATP hydrolysis activity</text>
<text x="39.4" y="362.9" font-size="6.4" fill="#383838" textLength="95.6" lengthAdjust="spacingAndGlyphs" stroke="#383838" stroke-width="0.2">NADPH dehydrogenase activity</text>
<text x="58.3" y="372.7" font-size="6.4" fill="#383838" textLength="71.3" lengthAdjust="spacingAndGlyphs" stroke="#383838" stroke-width="0.2">ATP-dependent activity,</text>
<text x="59.2" y="379.2" font-size="6.4" fill="#383838" textLength="44.8" lengthAdjust="spacingAndGlyphs" stroke="#383838" stroke-width="0.2">acting on DNA</text>
<line x1="57" y1="329" x2="51" y2="343" stroke="#262626" stroke-width="1.15" stroke-dasharray="1.1,1.2"/>
<line x1="88" y1="338" x2="85.2" y2="345.5" stroke="#262626" stroke-width="1.15" stroke-dasharray="1.1,1.2"/>
<line x1="44" y1="357" x2="50" y2="351" stroke="#262626" stroke-width="1.15" stroke-dasharray="1.1,1.2"/>
<line x1="53" y1="374.4" x2="58.3" y2="371.7" stroke="#262626" stroke-width="1.15" stroke-dasharray="1.1,1.2"/>
<g fill="#c63c46" stroke="#8e2a35" stroke-width="0.45"><circle cx="121.0" cy="307.1" r="1.80"/><circle cx="78.5" cy="319.2" r="1.80"/><circle cx="151.7" cy="336.7" r="1.80"/><circle cx="151.7" cy="341.3" r="1.80"/><circle cx="96.0" cy="344.8" r="1.80"/><circle cx="83.8" cy="346.7" r="1.80"/><circle cx="62.8" cy="324.1" r="1.80"/><circle cx="96.0" cy="324.6" r="1.80"/><circle cx="60.4" cy="333.5" r="1.80"/><circle cx="60.4" cy="336.2" r="1.80"/><circle cx="52.8" cy="341.8" r="1.80"/><circle cx="52.8" cy="344.9" r="1.80"/><circle cx="82.9" cy="346.8" r="1.80"/><circle cx="58.3" cy="348.0" r="1.80"/><circle cx="60.8" cy="348.6" r="1.80"/><circle cx="60.1" cy="351.7" r="1.80"/><circle cx="65.7" cy="351.7" r="1.80"/><circle cx="52.8" cy="351.7" r="1.80"/><circle cx="48.5" cy="354.8" r="1.80"/><circle cx="63.2" cy="356.0" r="1.80"/><circle cx="55.8" cy="357.8" r="1.80"/><circle cx="52.8" cy="360.3" r="1.80"/><circle cx="117.0" cy="361.0" r="1.80"/><circle cx="121.5" cy="359.6" r="1.80"/><circle cx="36.8" cy="366.4" r="1.80"/><circle cx="39.9" cy="365.8" r="1.80"/><circle cx="42.5" cy="365.2" r="1.80"/><circle cx="47.0" cy="365.8" r="1.80"/><circle cx="55.8" cy="367.7" r="1.80"/><circle cx="58.3" cy="367.1" r="1.80"/><circle cx="65.7" cy="366.4" r="1.80"/><circle cx="70.6" cy="372.0" r="1.80"/><circle cx="78.0" cy="369.0" r="1.80"/><circle cx="87.9" cy="367.7" r="1.80"/><circle cx="83.8" cy="377.1" r="1.80"/><circle cx="70.4" cy="373.0" r="1.80"/><circle cx="50.3" cy="373.2" r="1.80"/><circle cx="50.3" cy="376.9" r="1.80"/><circle cx="58.3" cy="375.7" r="1.80"/><circle cx="60.8" cy="377.5" r="1.80"/><circle cx="82.9" cy="376.9" r="1.80"/><circle cx="45.5" cy="360.5" r="1.80"/><circle cx="39.5" cy="359.6" r="1.80"/><circle cx="42.2" cy="359.2" r="1.80"/><circle cx="57.5" cy="356.5" r="1.80"/><circle cx="46.5" cy="366.7" r="1.80"/><circle cx="61.5" cy="354.5" r="1.80"/><circle cx="36.6" cy="372.5" r="1.80"/><circle cx="36.7" cy="374.4" r="1.80"/><circle cx="36.9" cy="376.8" r="1.80"/><circle cx="37.1" cy="379.2" r="1.80"/><circle cx="38.8" cy="372.7" r="1.80"/><circle cx="38.9" cy="375.2" r="1.80"/><circle cx="39.0" cy="377.2" r="1.80"/><circle cx="39.1" cy="379.3" r="1.80"/><circle cx="40.5" cy="373.0" r="1.80"/><circle cx="41.2" cy="375.2" r="1.80"/><circle cx="41.4" cy="376.9" r="1.80"/><circle cx="40.9" cy="379.6" r="1.80"/><circle cx="43.0" cy="374.5" r="1.80"/><circle cx="43.5" cy="379.0" r="1.80"/><circle cx="45.7" cy="372.5" r="1.80"/><circle cx="45.9" cy="375.2" r="1.80"/><circle cx="46.2" cy="377.4" r="1.80"/></g>
<line x1="33.2" y1="299.1" x2="33.2" y2="390.2" stroke="#1e1e1e" stroke-width="1.2"/>
<line x1="33.2" y1="390.2" x2="160.2" y2="390.2" stroke="#1e1e1e" stroke-width="1.2"/>
<line x1="30.6" y1="390.2" x2="33.2" y2="390.2" stroke="#222" stroke-width="1.0"/>
<text x="27.6" y="392.5" font-size="6.5" fill="#333" text-anchor="end" stroke="#333" stroke-width="0.2">0</text>
<line x1="30.6" y1="372.28" x2="33.2" y2="372.28" stroke="#222" stroke-width="1.0"/>
<text x="27.6" y="374.58" font-size="6.5" fill="#333" text-anchor="end" stroke="#333" stroke-width="0.2">2</text>
<line x1="30.6" y1="354.36" x2="33.2" y2="354.36" stroke="#222" stroke-width="1.0"/>
<text x="27.6" y="356.66" font-size="6.5" fill="#333" text-anchor="end" stroke="#333" stroke-width="0.2">4</text>
<line x1="30.6" y1="336.44" x2="33.2" y2="336.44" stroke="#222" stroke-width="1.0"/>
<text x="27.6" y="338.74" font-size="6.5" fill="#333" text-anchor="end" stroke="#333" stroke-width="0.2">6</text>
<line x1="30.6" y1="318.52" x2="33.2" y2="318.52" stroke="#222" stroke-width="1.0"/>
<text x="27.6" y="320.82" font-size="6.5" fill="#333" text-anchor="end" stroke="#333" stroke-width="0.2">8</text>
<line x1="30.6" y1="300.6" x2="33.2" y2="300.6" stroke="#222" stroke-width="1.0"/>
<text x="27.6" y="302.9" font-size="6.5" fill="#333" text-anchor="end" stroke="#333" stroke-width="0.2">10</text>
<line x1="33.2" y1="390.2" x2="33.2" y2="392.8" stroke="#222" stroke-width="1.0"/>
<text x="33.2" y="401.6" font-size="6.5" fill="#333" text-anchor="middle" stroke="#333" stroke-width="0.2">0</text>
<line x1="58.25" y1="390.2" x2="58.25" y2="392.8" stroke="#222" stroke-width="1.0"/>
<text x="58.25" y="401.6" font-size="6.5" fill="#333" text-anchor="middle" stroke="#333" stroke-width="0.2">10</text>
<line x1="83.3" y1="390.2" x2="83.3" y2="392.8" stroke="#222" stroke-width="1.0"/>
<text x="83.3" y="401.6" font-size="6.5" fill="#333" text-anchor="middle" stroke="#333" stroke-width="0.2">20</text>
<line x1="108.35" y1="390.2" x2="108.35" y2="392.8" stroke="#222" stroke-width="1.0"/>
<text x="108.35" y="401.6" font-size="6.5" fill="#333" text-anchor="middle" stroke="#333" stroke-width="0.2">30</text>
<line x1="133.4" y1="390.2" x2="133.4" y2="392.8" stroke="#222" stroke-width="1.0"/>
<text x="133.4" y="401.6" font-size="6.5" fill="#333" text-anchor="middle" stroke="#333" stroke-width="0.2">40</text>
<line x1="158.45" y1="390.2" x2="158.45" y2="392.8" stroke="#222" stroke-width="1.0"/>
<text x="158.45" y="401.6" font-size="6.5" fill="#333" text-anchor="middle" stroke="#333" stroke-width="0.2">50</text>
<text x="13.2" y="344.1" font-size="7.8" fill="#333" text-anchor="middle" textLength="35.8" lengthAdjust="spacingAndGlyphs" transform="rotate(-90 13.2 344.1)" stroke="#333" stroke-width="0.28">-log10 FDR</text>
<text x="97.6" y="413.9" font-size="9.0" fill="#333" text-anchor="middle" textLength="52.8" lengthAdjust="spacingAndGlyphs" stroke="#333" stroke-width="0.28">Number of genes</text>
<text x="225.9" y="293.1" font-size="8.8" fill="#333" textLength="93.5" lengthAdjust="spacingAndGlyphs" stroke="#333" stroke-width="0.2">GO: Molecular Function</text>
<text x="223.7" y="321.2" font-size="6.4" fill="#383838" textLength="72.1" lengthAdjust="spacingAndGlyphs" stroke="#383838" stroke-width="0.2">mitochondrial translation</text>
<text x="218.6" y="346" font-size="6.4" fill="#383838" textLength="91.8" lengthAdjust="spacingAndGlyphs" stroke="#383838" stroke-width="0.2">nucleotide biosynthetic process</text>
<text x="233.5" y="354.9" font-size="6.4" fill="#383838" textLength="76.5" lengthAdjust="spacingAndGlyphs" stroke="#383838" stroke-width="0.2">oxidative phosphorylation</text>
<text x="276.6" y="364" font-size="6.4" fill="#383838" textLength="33.8" lengthAdjust="spacingAndGlyphs" stroke="#383838" stroke-width="0.2">DNA repair</text>
<text x="250.4" y="380.6" font-size="6.4" fill="#383838" textLength="57.1" lengthAdjust="spacingAndGlyphs" stroke="#383838" stroke-width="0.2">cellular response to</text>
<text x="252.1" y="388.4" font-size="6.4" fill="#383838" textLength="64" lengthAdjust="spacingAndGlyphs" stroke="#383838" stroke-width="0.2">DNA damage stimulus</text>
<line x1="256.2" y1="326.5" x2="260.3" y2="338.4" stroke="#262626" stroke-width="1.15" stroke-dasharray="1.1,1.2"/>
<line x1="222.5" y1="348.4" x2="233.5" y2="366.2" stroke="#262626" stroke-width="1.15" stroke-dasharray="1.1,1.2"/>
<line x1="239.6" y1="355.8" x2="243.6" y2="361.5" stroke="#262626" stroke-width="1.15" stroke-dasharray="1.1,1.2"/>
<line x1="275.5" y1="362.6" x2="259" y2="371" stroke="#262626" stroke-width="1.15" stroke-dasharray="1.1,1.2"/>
<g fill="#4f6aa6" stroke="#34467a" stroke-width="0.45"><circle cx="271.4" cy="332.3" r="1.80"/><circle cx="261.1" cy="339.7" r="1.80"/><circle cx="293.1" cy="345.4" r="1.80"/><circle cx="306.9" cy="344.4" r="1.80"/><circle cx="261.1" cy="356.1" r="1.80"/><circle cx="265.4" cy="355.8" r="1.80"/><circle cx="277.5" cy="356.1" r="1.80"/><circle cx="279.5" cy="357.5" r="1.80"/><circle cx="281.0" cy="362.2" r="1.80"/><circle cx="279.2" cy="367.4" r="1.80"/><circle cx="291.3" cy="366.5" r="1.80"/><circle cx="293.9" cy="370.0" r="1.80"/><circle cx="296.5" cy="372.6" r="1.80"/><circle cx="316.4" cy="372.1" r="1.80"/><circle cx="258.5" cy="371.7" r="1.80"/><circle cx="268.8" cy="369.6" r="1.80"/><circle cx="272.3" cy="371.7" r="1.80"/><circle cx="287.9" cy="371.7" r="1.80"/><circle cx="218.2" cy="371.8" r="1.80"/><circle cx="240.2" cy="369.3" r="1.80"/><circle cx="243.1" cy="361.5" r="1.80"/><circle cx="248.3" cy="364.5" r="1.80"/><circle cx="255.6" cy="366.7" r="1.80"/><circle cx="229.9" cy="367.2" r="1.80"/><circle cx="248.4" cy="366.2" r="1.80"/><circle cx="231.5" cy="368.5" r="1.80"/><circle cx="232.6" cy="378.2" r="1.80"/><circle cx="254.1" cy="381.2" r="1.80"/><circle cx="235.1" cy="380.8" r="1.80"/><circle cx="220.4" cy="382.2" r="1.80"/><circle cx="240.7" cy="383.7" r="1.80"/><circle cx="216.3" cy="379.2" r="1.80"/><circle cx="216.1" cy="384.6" r="1.80"/><circle cx="243.6" cy="373.1" r="1.80"/><circle cx="256.7" cy="386.2" r="1.80"/><circle cx="241.8" cy="381.2" r="1.80"/><circle cx="219.2" cy="377.6" r="1.80"/><circle cx="236.0" cy="373.3" r="1.80"/><circle cx="220.7" cy="379.7" r="1.80"/><circle cx="213.4" cy="380.9" r="1.80"/><circle cx="232.0" cy="383.6" r="1.80"/><circle cx="235.6" cy="381.5" r="1.80"/><circle cx="234.7" cy="381.8" r="1.80"/><circle cx="232.8" cy="372.8" r="1.80"/><circle cx="257.4" cy="386.6" r="1.80"/><circle cx="250.2" cy="383.6" r="1.80"/><circle cx="226.3" cy="371.9" r="1.80"/><circle cx="225.2" cy="378.1" r="1.80"/><circle cx="246.9" cy="380.5" r="1.80"/><circle cx="250.5" cy="380.4" r="1.80"/><circle cx="255.6" cy="385.1" r="1.80"/><circle cx="212.0" cy="378.2" r="1.80"/><circle cx="253.4" cy="381.2" r="1.80"/><circle cx="256.6" cy="380.5" r="1.80"/><circle cx="215.3" cy="382.7" r="1.80"/><circle cx="247.4" cy="379.2" r="1.80"/><circle cx="216.0" cy="379.5" r="1.80"/><circle cx="255.9" cy="384.2" r="1.80"/><circle cx="217.4" cy="378.6" r="1.80"/><circle cx="216.6" cy="376.6" r="1.80"/><circle cx="248.3" cy="378.3" r="1.80"/><circle cx="237.4" cy="378.8" r="1.80"/><circle cx="220.7" cy="384.2" r="1.80"/><circle cx="218.0" cy="382.8" r="1.80"/><circle cx="217.3" cy="380.5" r="1.80"/><circle cx="221.7" cy="380.0" r="1.80"/><circle cx="256.2" cy="384.6" r="1.80"/><circle cx="225.8" cy="385.6" r="1.80"/><circle cx="221.6" cy="381.1" r="1.80"/><circle cx="250.9" cy="383.0" r="1.80"/><circle cx="216.6" cy="386.5" r="1.80"/><circle cx="221.7" cy="379.9" r="1.80"/><circle cx="247.2" cy="379.8" r="1.80"/><circle cx="225.5" cy="378.2" r="1.80"/><circle cx="216.1" cy="382.2" r="1.80"/><circle cx="223.1" cy="383.0" r="1.80"/><circle cx="228.9" cy="376.2" r="1.80"/><circle cx="255.6" cy="381.4" r="1.80"/><circle cx="238.1" cy="384.7" r="1.80"/><circle cx="220.3" cy="378.9" r="1.80"/><circle cx="253.3" cy="384.8" r="1.80"/><circle cx="223.4" cy="379.2" r="1.80"/><circle cx="245.6" cy="385.8" r="1.80"/><circle cx="220.9" cy="386.1" r="1.80"/><circle cx="252.1" cy="382.6" r="1.80"/><circle cx="231.2" cy="369.5" r="1.80"/><circle cx="213.8" cy="386.2" r="1.80"/><circle cx="222.8" cy="383.9" r="1.80"/><circle cx="223.7" cy="385.0" r="1.80"/><circle cx="239.1" cy="376.6" r="1.80"/><circle cx="220.0" cy="384.1" r="1.80"/><circle cx="215.1" cy="378.4" r="1.80"/><circle cx="237.5" cy="384.5" r="1.80"/><circle cx="240.0" cy="376.5" r="1.80"/><circle cx="253.7" cy="378.6" r="1.80"/><circle cx="212.8" cy="378.9" r="1.80"/><circle cx="232.3" cy="368.7" r="1.80"/><circle cx="220.0" cy="380.9" r="1.80"/><circle cx="238.0" cy="374.4" r="1.80"/><circle cx="228.5" cy="384.5" r="1.80"/><circle cx="256.6" cy="383.1" r="1.80"/><circle cx="243.5" cy="380.7" r="1.80"/><circle cx="218.4" cy="377.8" r="1.80"/><circle cx="212.8" cy="385.6" r="1.80"/><circle cx="243.9" cy="386.1" r="1.80"/><circle cx="213.0" cy="382.7" r="1.80"/><circle cx="233.9" cy="381.5" r="1.80"/><circle cx="226.5" cy="386.6" r="1.80"/><circle cx="215.4" cy="381.8" r="1.80"/><circle cx="245.5" cy="385.2" r="1.80"/><circle cx="245.5" cy="382.4" r="1.80"/><circle cx="248.1" cy="385.7" r="1.80"/><circle cx="228.0" cy="380.6" r="1.80"/><circle cx="253.0" cy="385.3" r="1.80"/><circle cx="231.0" cy="382.6" r="1.80"/><circle cx="251.3" cy="382.3" r="1.80"/><circle cx="240.4" cy="377.9" r="1.80"/><circle cx="238.5" cy="381.1" r="1.80"/><circle cx="215.6" cy="382.8" r="1.80"/><circle cx="257.2" cy="385.4" r="1.80"/><circle cx="245.1" cy="378.0" r="1.80"/><circle cx="245.4" cy="380.7" r="1.80"/><circle cx="232.0" cy="383.5" r="1.80"/><circle cx="215.8" cy="384.0" r="1.80"/><circle cx="213.4" cy="382.4" r="1.80"/><circle cx="233.9" cy="371.9" r="1.80"/><circle cx="243.8" cy="379.5" r="1.80"/><circle cx="240.0" cy="385.5" r="1.80"/><circle cx="223.6" cy="377.6" r="1.80"/><circle cx="225.7" cy="383.7" r="1.80"/><circle cx="221.2" cy="379.0" r="1.80"/><circle cx="253.2" cy="383.2" r="1.80"/><circle cx="232.1" cy="384.5" r="1.80"/><circle cx="226.9" cy="380.2" r="1.80"/><circle cx="221.0" cy="381.4" r="1.80"/><circle cx="248.7" cy="385.7" r="1.80"/><circle cx="252.1" cy="380.4" r="1.80"/><circle cx="238.5" cy="377.0" r="1.80"/><circle cx="218.2" cy="382.0" r="1.80"/><circle cx="250.1" cy="385.1" r="1.80"/><circle cx="244.4" cy="385.9" r="1.80"/><circle cx="224.6" cy="379.0" r="1.80"/><circle cx="232.5" cy="372.8" r="1.80"/><circle cx="221.7" cy="381.3" r="1.80"/><circle cx="240.5" cy="379.5" r="1.80"/><circle cx="226.3" cy="383.5" r="1.80"/><circle cx="256.7" cy="381.1" r="1.80"/><circle cx="215.4" cy="376.3" r="1.80"/><circle cx="251.7" cy="376.9" r="1.80"/><circle cx="244.2" cy="380.5" r="1.80"/><circle cx="226.1" cy="382.6" r="1.80"/><circle cx="212.9" cy="377.4" r="1.80"/><circle cx="232.7" cy="368.0" r="1.80"/><circle cx="249.7" cy="378.9" r="1.80"/><circle cx="218.4" cy="377.9" r="1.80"/><circle cx="240.6" cy="378.8" r="1.80"/><circle cx="240.7" cy="381.7" r="1.80"/><circle cx="248.7" cy="386.2" r="1.80"/><circle cx="243.1" cy="375.3" r="1.80"/><circle cx="233.6" cy="370.9" r="1.80"/><circle cx="212.5" cy="381.0" r="1.80"/><circle cx="244.5" cy="375.0" r="1.80"/><circle cx="224.4" cy="380.6" r="1.80"/><circle cx="243.7" cy="379.8" r="1.80"/><circle cx="240.0" cy="383.2" r="1.80"/><circle cx="229.9" cy="382.6" r="1.80"/><circle cx="253.2" cy="377.4" r="1.80"/><circle cx="254.4" cy="383.8" r="1.80"/><circle cx="217.9" cy="380.8" r="1.80"/><circle cx="240.5" cy="385.3" r="1.80"/><circle cx="229.1" cy="378.4" r="1.80"/><circle cx="252.0" cy="384.5" r="1.80"/><circle cx="255.0" cy="381.2" r="1.80"/><circle cx="241.6" cy="375.4" r="1.80"/><circle cx="244.8" cy="384.0" r="1.80"/><circle cx="241.2" cy="382.6" r="1.80"/><circle cx="221.7" cy="385.7" r="1.80"/><circle cx="256.6" cy="386.4" r="1.80"/><circle cx="236.4" cy="383.7" r="1.80"/><circle cx="226.6" cy="384.9" r="1.80"/><circle cx="250.9" cy="380.0" r="1.80"/><circle cx="215.8" cy="380.7" r="1.80"/><circle cx="237.0" cy="383.3" r="1.80"/><circle cx="234.2" cy="372.9" r="1.80"/><circle cx="248.8" cy="377.1" r="1.80"/><circle cx="248.4" cy="378.2" r="1.80"/><circle cx="227.2" cy="382.5" r="1.80"/><circle cx="218.4" cy="378.9" r="1.80"/><circle cx="235.5" cy="382.7" r="1.80"/><circle cx="250.2" cy="383.5" r="1.80"/><circle cx="255.0" cy="381.5" r="1.80"/><circle cx="255.2" cy="377.4" r="1.80"/><circle cx="222.1" cy="382.3" r="1.80"/><circle cx="225.2" cy="384.1" r="1.80"/><circle cx="241.1" cy="379.9" r="1.80"/><circle cx="250.4" cy="382.2" r="1.80"/><circle cx="226.2" cy="374.8" r="1.80"/><circle cx="250.5" cy="385.6" r="1.80"/><circle cx="221.5" cy="385.2" r="1.80"/><circle cx="256.1" cy="381.8" r="1.80"/><circle cx="238.1" cy="375.3" r="1.80"/><circle cx="275.1" cy="382.1" r="1.80"/><circle cx="277.4" cy="377.8" r="1.80"/><circle cx="289.0" cy="382.2" r="1.80"/><circle cx="270.8" cy="384.8" r="1.80"/><circle cx="276.0" cy="382.0" r="1.80"/><circle cx="280.1" cy="378.1" r="1.80"/><circle cx="275.2" cy="381.3" r="1.80"/><circle cx="288.6" cy="385.9" r="1.80"/><circle cx="266.6" cy="381.8" r="1.80"/><circle cx="262.1" cy="381.4" r="1.80"/><circle cx="284.1" cy="385.7" r="1.80"/><circle cx="273.2" cy="380.4" r="1.80"/><circle cx="264.1" cy="383.1" r="1.80"/><circle cx="287.6" cy="378.7" r="1.80"/><circle cx="296.0" cy="384.5" r="1.80"/><circle cx="301.5" cy="386.0" r="1.80"/><circle cx="290.5" cy="381.0" r="1.80"/></g>
<line x1="208.2" y1="299.1" x2="208.2" y2="390.2" stroke="#1e1e1e" stroke-width="1.2"/>
<line x1="208.2" y1="390.2" x2="335.2" y2="390.2" stroke="#1e1e1e" stroke-width="1.2"/>
<line x1="205.6" y1="390.2" x2="208.2" y2="390.2" stroke="#222" stroke-width="1.0"/>
<text x="202.6" y="392.5" font-size="6.5" fill="#333" text-anchor="end" stroke="#333" stroke-width="0.2">0</text>
<line x1="205.6" y1="372.28" x2="208.2" y2="372.28" stroke="#222" stroke-width="1.0"/>
<text x="202.6" y="374.58" font-size="6.5" fill="#333" text-anchor="end" stroke="#333" stroke-width="0.2">5</text>
<line x1="205.6" y1="354.36" x2="208.2" y2="354.36" stroke="#222" stroke-width="1.0"/>
<text x="202.6" y="356.66" font-size="6.5" fill="#333" text-anchor="end" stroke="#333" stroke-width="0.2">10</text>
<line x1="205.6" y1="336.44" x2="208.2" y2="336.44" stroke="#222" stroke-width="1.0"/>
<text x="202.6" y="338.74" font-size="6.5" fill="#333" text-anchor="end" stroke="#333" stroke-width="0.2">15</text>
<line x1="205.6" y1="318.52" x2="208.2" y2="318.52" stroke="#222" stroke-width="1.0"/>
<text x="202.6" y="320.82" font-size="6.5" fill="#333" text-anchor="end" stroke="#333" stroke-width="0.2">20</text>
<line x1="205.6" y1="300.6" x2="208.2" y2="300.6" stroke="#222" stroke-width="1.0"/>
<text x="202.6" y="302.9" font-size="6.5" fill="#333" text-anchor="end" stroke="#333" stroke-width="0.2">25</text>
<line x1="208.2" y1="390.2" x2="208.2" y2="392.8" stroke="#222" stroke-width="1.0"/>
<text x="208.2" y="401.6" font-size="6.5" fill="#333" text-anchor="middle" stroke="#333" stroke-width="0.2">0</text>
<line x1="233.25" y1="390.2" x2="233.25" y2="392.8" stroke="#222" stroke-width="1.0"/>
<text x="233.25" y="401.6" font-size="6.5" fill="#333" text-anchor="middle" stroke="#333" stroke-width="0.2">10</text>
<line x1="258.3" y1="390.2" x2="258.3" y2="392.8" stroke="#222" stroke-width="1.0"/>
<text x="258.3" y="401.6" font-size="6.5" fill="#333" text-anchor="middle" stroke="#333" stroke-width="0.2">20</text>
<line x1="283.35" y1="390.2" x2="283.35" y2="392.8" stroke="#222" stroke-width="1.0"/>
<text x="283.35" y="401.6" font-size="6.5" fill="#333" text-anchor="middle" stroke="#333" stroke-width="0.2">30</text>
<line x1="308.4" y1="390.2" x2="308.4" y2="392.8" stroke="#222" stroke-width="1.0"/>
<text x="308.4" y="401.6" font-size="6.5" fill="#333" text-anchor="middle" stroke="#333" stroke-width="0.2">40</text>
<line x1="333.45" y1="390.2" x2="333.45" y2="392.8" stroke="#222" stroke-width="1.0"/>
<text x="333.45" y="401.6" font-size="6.5" fill="#333" text-anchor="middle" stroke="#333" stroke-width="0.2">50</text>
<text x="188.2" y="344.1" font-size="7.8" fill="#333" text-anchor="middle" textLength="35.8" lengthAdjust="spacingAndGlyphs" transform="rotate(-90 188.2 344.1)" stroke="#333" stroke-width="0.28">-log10 FDR</text>
<text x="272.6" y="413.9" font-size="9.0" fill="#333" text-anchor="middle" textLength="52.8" lengthAdjust="spacingAndGlyphs" stroke="#333" stroke-width="0.28">Number of genes</text>
<text x="398.8" y="293.1" font-size="8.8" fill="#333" textLength="97.3" lengthAdjust="spacingAndGlyphs" stroke="#333" stroke-width="0.2">GO: Cellular Component</text>
<text x="428.2" y="327.2" font-size="6.4" fill="#383838" textLength="60.2" lengthAdjust="spacingAndGlyphs" stroke="#383838" stroke-width="0.2">mitochondrial matrix</text>
<text x="393.8" y="347.8" font-size="6.4" fill="#383838" textLength="62.4" lengthAdjust="spacingAndGlyphs" stroke="#383838" stroke-width="0.2">proteasome complex</text>
<text x="420" y="359.8" font-size="6.4" fill="#383838" textLength="74.1" lengthAdjust="spacingAndGlyphs" stroke="#383838" stroke-width="0.2">mitochondrial membrane</text>
<text x="429.3" y="369.8" font-size="6.4" fill="#383838" textLength="57.4" lengthAdjust="spacingAndGlyphs" stroke="#383838" stroke-width="0.2">chaperone complex</text>
<text x="428.5" y="385" font-size="6.4" fill="#383838" textLength="64.6" lengthAdjust="spacingAndGlyphs" stroke="#383838" stroke-width="0.2">spliceosomal complex</text>
<line x1="474" y1="329" x2="476.3" y2="342" stroke="#262626" stroke-width="1.15" stroke-dasharray="1.1,1.2"/>
<line x1="413.9" y1="349.5" x2="403" y2="370.5" stroke="#262626" stroke-width="1.15" stroke-dasharray="1.1,1.2"/>
<line x1="493.5" y1="352.5" x2="497" y2="347.5" stroke="#262626" stroke-width="1.15" stroke-dasharray="1.1,1.2"/>
<line x1="428" y1="367" x2="421.5" y2="368.5" stroke="#262626" stroke-width="1.15" stroke-dasharray="1.1,1.2"/>
<line x1="427" y1="382" x2="420.5" y2="376.5" stroke="#262626" stroke-width="1.15" stroke-dasharray="1.1,1.2"/>
<g fill="#80c866" stroke="#5a9a48" stroke-width="0.45"><circle cx="466.1" cy="335.1" r="1.80"/><circle cx="475.9" cy="343.0" r="1.80"/><circle cx="486.7" cy="340.5" r="1.80"/><circle cx="488.9" cy="342.3" r="1.80"/><circle cx="496.1" cy="346.6" r="1.80"/><circle cx="506.6" cy="341.6" r="1.80"/><circle cx="437.2" cy="356.8" r="1.80"/><circle cx="437.2" cy="369.4" r="1.80"/><circle cx="466.1" cy="371.2" r="1.80"/><circle cx="474.4" cy="366.9" r="1.80"/><circle cx="488.9" cy="376.7" r="1.80"/><circle cx="458.9" cy="385.0" r="1.80"/><circle cx="400.9" cy="372.0" r="1.80"/><circle cx="405.8" cy="370.8" r="1.80"/><circle cx="414.4" cy="365.8" r="1.80"/><circle cx="416.9" cy="364.6" r="1.80"/><circle cx="419.4" cy="364.0" r="1.80"/><circle cx="420.6" cy="368.9" r="1.80"/><circle cx="412.0" cy="373.2" r="1.80"/><circle cx="408.3" cy="374.4" r="1.80"/><circle cx="404.6" cy="376.9" r="1.80"/><circle cx="404.0" cy="380.6" r="1.80"/><circle cx="407.0" cy="381.8" r="1.80"/><circle cx="408.3" cy="385.5" r="1.80"/><circle cx="414.4" cy="381.8" r="1.80"/><circle cx="416.9" cy="379.4" r="1.80"/><circle cx="420.6" cy="381.8" r="1.80"/><circle cx="423.7" cy="381.8" r="1.80"/><circle cx="416.9" cy="384.3" r="1.80"/><circle cx="436.6" cy="372.0" r="1.80"/><circle cx="400.9" cy="374.4" r="1.80"/><circle cx="410.0" cy="376.0" r="1.80"/><circle cx="402.5" cy="378.5" r="1.80"/><circle cx="396.2" cy="385.3" r="1.80"/><circle cx="399.3" cy="386.9" r="1.80"/><circle cx="398.3" cy="386.7" r="1.80"/><circle cx="385.5" cy="385.1" r="1.80"/><circle cx="402.0" cy="383.8" r="1.80"/><circle cx="401.2" cy="378.6" r="1.80"/><circle cx="393.4" cy="382.0" r="1.80"/><circle cx="394.8" cy="384.2" r="1.80"/><circle cx="385.2" cy="384.1" r="1.80"/><circle cx="390.0" cy="386.9" r="1.80"/><circle cx="398.8" cy="379.8" r="1.80"/><circle cx="399.3" cy="379.4" r="1.80"/><circle cx="396.1" cy="380.3" r="1.80"/><circle cx="385.0" cy="386.9" r="1.80"/><circle cx="388.8" cy="383.1" r="1.80"/><circle cx="402.7" cy="386.1" r="1.80"/><circle cx="390.2" cy="387.2" r="1.80"/><circle cx="394.7" cy="385.0" r="1.80"/><circle cx="388.7" cy="387.1" r="1.80"/><circle cx="397.4" cy="387.1" r="1.80"/><circle cx="401.1" cy="380.5" r="1.80"/><circle cx="391.5" cy="382.0" r="1.80"/><circle cx="387.6" cy="382.7" r="1.80"/><circle cx="390.4" cy="385.0" r="1.80"/><circle cx="385.1" cy="386.1" r="1.80"/><circle cx="391.1" cy="383.1" r="1.80"/><circle cx="399.7" cy="382.5" r="1.80"/><circle cx="390.7" cy="384.2" r="1.80"/><circle cx="397.7" cy="379.2" r="1.80"/><circle cx="402.6" cy="377.2" r="1.80"/><circle cx="398.5" cy="386.0" r="1.80"/><circle cx="385.3" cy="386.5" r="1.80"/><circle cx="391.6" cy="384.7" r="1.80"/><circle cx="385.2" cy="383.5" r="1.80"/><circle cx="388.3" cy="387.2" r="1.80"/><circle cx="388.5" cy="386.1" r="1.80"/><circle cx="401.7" cy="386.8" r="1.80"/><circle cx="391.2" cy="383.3" r="1.80"/><circle cx="394.4" cy="385.7" r="1.80"/><circle cx="386.9" cy="386.2" r="1.80"/><circle cx="399.4" cy="386.1" r="1.80"/><circle cx="385.7" cy="387.2" r="1.80"/><circle cx="386.6" cy="384.3" r="1.80"/><circle cx="396.0" cy="386.7" r="1.80"/><circle cx="391.1" cy="386.9" r="1.80"/><circle cx="394.8" cy="382.2" r="1.80"/><circle cx="390.7" cy="382.4" r="1.80"/><circle cx="386.4" cy="383.5" r="1.80"/></g>
<line x1="383.2" y1="299.1" x2="383.2" y2="390.2" stroke="#1e1e1e" stroke-width="1.2"/>
<line x1="383.2" y1="390.2" x2="510.2" y2="390.2" stroke="#1e1e1e" stroke-width="1.2"/>
<line x1="380.6" y1="390.2" x2="383.2" y2="390.2" stroke="#222" stroke-width="1.0"/>
<text x="377.6" y="392.5" font-size="6.5" fill="#333" text-anchor="end" stroke="#333" stroke-width="0.2">0</text>
<line x1="380.6" y1="360.33" x2="383.2" y2="360.33" stroke="#222" stroke-width="1.0"/>
<text x="377.6" y="362.63" font-size="6.5" fill="#333" text-anchor="end" stroke="#333" stroke-width="0.2">10</text>
<line x1="380.6" y1="330.47" x2="383.2" y2="330.47" stroke="#222" stroke-width="1.0"/>
<text x="377.6" y="332.77" font-size="6.5" fill="#333" text-anchor="end" stroke="#333" stroke-width="0.2">20</text>
<line x1="380.6" y1="300.6" x2="383.2" y2="300.6" stroke="#222" stroke-width="1.0"/>
<text x="377.6" y="302.9" font-size="6.5" fill="#333" text-anchor="end" stroke="#333" stroke-width="0.2">30</text>
<line x1="383.2" y1="390.2" x2="383.2" y2="392.8" stroke="#222" stroke-width="1.0"/>
<text x="383.2" y="401.6" font-size="6.5" fill="#333" text-anchor="middle" stroke="#333" stroke-width="0.2">0</text>
<line x1="408.25" y1="390.2" x2="408.25" y2="392.8" stroke="#222" stroke-width="1.0"/>
<text x="408.25" y="401.6" font-size="6.5" fill="#333" text-anchor="middle" stroke="#333" stroke-width="0.2">10</text>
<line x1="433.3" y1="390.2" x2="433.3" y2="392.8" stroke="#222" stroke-width="1.0"/>
<text x="433.3" y="401.6" font-size="6.5" fill="#333" text-anchor="middle" stroke="#333" stroke-width="0.2">20</text>
<line x1="458.35" y1="390.2" x2="458.35" y2="392.8" stroke="#222" stroke-width="1.0"/>
<text x="458.35" y="401.6" font-size="6.5" fill="#333" text-anchor="middle" stroke="#333" stroke-width="0.2">30</text>
<line x1="483.4" y1="390.2" x2="483.4" y2="392.8" stroke="#222" stroke-width="1.0"/>
<text x="483.4" y="401.6" font-size="6.5" fill="#333" text-anchor="middle" stroke="#333" stroke-width="0.2">40</text>
<line x1="508.45" y1="390.2" x2="508.45" y2="392.8" stroke="#222" stroke-width="1.0"/>
<text x="508.45" y="401.6" font-size="6.5" fill="#333" text-anchor="middle" stroke="#333" stroke-width="0.2">50</text>
<text x="363.2" y="344.1" font-size="7.8" fill="#333" text-anchor="middle" textLength="35.8" lengthAdjust="spacingAndGlyphs" transform="rotate(-90 363.2 344.1)" stroke="#333" stroke-width="0.28">-log10 FDR</text>
<text x="447.6" y="413.9" font-size="9.0" fill="#333" text-anchor="middle" textLength="52.8" lengthAdjust="spacingAndGlyphs" stroke="#333" stroke-width="0.28">Number of genes</text>
</svg>
</div></body></html>
